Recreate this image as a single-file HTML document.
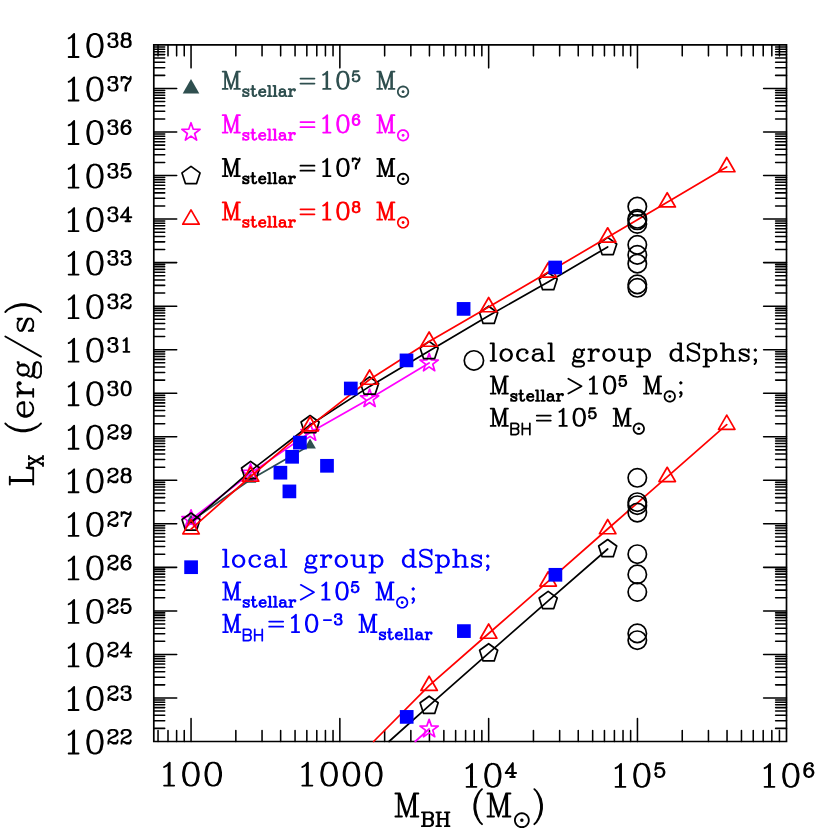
<!DOCTYPE html>
<html><head><meta charset="utf-8"><title>Lx vs MBH</title>
<style>html,body{margin:0;padding:0;background:#fff;font-family:"Liberation Sans",sans-serif}svg{display:block}</style>
</head><body>
<svg width="830" height="830" viewBox="0 0 830 830" fill="none" stroke-width="1.7" stroke-linecap="round" stroke-linejoin="round">
<rect width="830" height="830" fill="#fff" stroke="none"/>
<path d="M153.8 44.95H786.5V741.5H153.8Z" stroke="#000" stroke-linejoin="miter"/>
<path d="M158.04 44.95v10.9M158.04 741.5v-10.9M168 44.95v10.9M168 741.5v-10.9M176.63 44.95v10.9M176.63 741.5v-10.9M184.24 44.95v10.9M184.24 741.5v-10.9M191.05 44.95v22.9M191.05 741.5v-22.9M235.84 44.95v10.9M235.84 741.5v-10.9M262.05 44.95v10.9M262.05 741.5v-10.9M280.64 44.95v10.9M280.64 741.5v-10.9M295.06 44.95v10.9M295.06 741.5v-10.9M306.84 44.95v10.9M306.84 741.5v-10.9M316.8 44.95v10.9M316.8 741.5v-10.9M325.43 44.95v10.9M325.43 741.5v-10.9M333.04 44.95v10.9M333.04 741.5v-10.9M339.85 44.95v22.9M339.85 741.5v-22.9M384.64 44.95v10.9M384.64 741.5v-10.9M410.85 44.95v10.9M410.85 741.5v-10.9M429.44 44.95v10.9M429.44 741.5v-10.9M443.86 44.95v10.9M443.86 741.5v-10.9M455.64 44.95v10.9M455.64 741.5v-10.9M465.6 44.95v10.9M465.6 741.5v-10.9M474.23 44.95v10.9M474.23 741.5v-10.9M481.84 44.95v10.9M481.84 741.5v-10.9M488.65 44.95v22.9M488.65 741.5v-22.9M533.44 44.95v10.9M533.44 741.5v-10.9M559.65 44.95v10.9M559.65 741.5v-10.9M578.24 44.95v10.9M578.24 741.5v-10.9M592.66 44.95v10.9M592.66 741.5v-10.9M604.44 44.95v10.9M604.44 741.5v-10.9M614.4 44.95v10.9M614.4 741.5v-10.9M623.03 44.95v10.9M623.03 741.5v-10.9M630.64 44.95v10.9M630.64 741.5v-10.9M637.45 44.95v22.9M637.45 741.5v-22.9M682.24 44.95v10.9M682.24 741.5v-10.9M708.45 44.95v10.9M708.45 741.5v-10.9M727.04 44.95v10.9M727.04 741.5v-10.9M741.46 44.95v10.9M741.46 741.5v-10.9M753.24 44.95v10.9M753.24 741.5v-10.9M763.2 44.95v10.9M763.2 741.5v-10.9M771.83 44.95v10.9M771.83 741.5v-10.9M779.44 44.95v10.9M779.44 741.5v-10.9M153.8 728.39h10.9M786.5 728.39h-10.9M153.8 720.73h10.9M786.5 720.73h-10.9M153.8 715.29h10.9M786.5 715.29h-10.9M153.8 711.07h10.9M786.5 711.07h-10.9M153.8 707.62h10.9M786.5 707.62h-10.9M153.8 704.71h10.9M786.5 704.71h-10.9M153.8 702.18h10.9M786.5 702.18h-10.9M153.8 699.96h10.9M786.5 699.96h-10.9M153.8 697.97h22.9M786.5 697.97h-22.9M153.8 684.86h10.9M786.5 684.86h-10.9M153.8 677.19h10.9M786.5 677.19h-10.9M153.8 671.76h10.9M786.5 671.76h-10.9M153.8 667.54h10.9M786.5 667.54h-10.9M153.8 664.09h10.9M786.5 664.09h-10.9M153.8 661.17h10.9M786.5 661.17h-10.9M153.8 658.65h10.9M786.5 658.65h-10.9M153.8 656.42h10.9M786.5 656.42h-10.9M153.8 654.43h22.9M786.5 654.43h-22.9M153.8 641.33h10.9M786.5 641.33h-10.9M153.8 633.66h10.9M786.5 633.66h-10.9M153.8 628.22h10.9M786.5 628.22h-10.9M153.8 624h10.9M786.5 624h-10.9M153.8 620.55h10.9M786.5 620.55h-10.9M153.8 617.64h10.9M786.5 617.64h-10.9M153.8 615.12h10.9M786.5 615.12h-10.9M153.8 612.89h10.9M786.5 612.89h-10.9M153.8 610.9h22.9M786.5 610.9h-22.9M153.8 597.79h10.9M786.5 597.79h-10.9M153.8 590.13h10.9M786.5 590.13h-10.9M153.8 584.69h10.9M786.5 584.69h-10.9M153.8 580.47h10.9M786.5 580.47h-10.9M153.8 577.02h10.9M786.5 577.02h-10.9M153.8 574.11h10.9M786.5 574.11h-10.9M153.8 571.58h10.9M786.5 571.58h-10.9M153.8 569.35h10.9M786.5 569.35h-10.9M153.8 567.36h22.9M786.5 567.36h-22.9M153.8 554.26h10.9M786.5 554.26h-10.9M153.8 546.59h10.9M786.5 546.59h-10.9M153.8 541.15h10.9M786.5 541.15h-10.9M153.8 536.93h10.9M786.5 536.93h-10.9M153.8 533.49h10.9M786.5 533.49h-10.9M153.8 530.57h10.9M786.5 530.57h-10.9M153.8 528.05h10.9M786.5 528.05h-10.9M153.8 525.82h10.9M786.5 525.82h-10.9M153.8 523.83h22.9M786.5 523.83h-22.9M153.8 510.72h10.9M786.5 510.72h-10.9M153.8 503.06h10.9M786.5 503.06h-10.9M153.8 497.62h10.9M786.5 497.62h-10.9M153.8 493.4h10.9M786.5 493.4h-10.9M153.8 489.95h10.9M786.5 489.95h-10.9M153.8 487.04h10.9M786.5 487.04h-10.9M153.8 484.51h10.9M786.5 484.51h-10.9M153.8 482.29h10.9M786.5 482.29h-10.9M153.8 480.29h22.9M786.5 480.29h-22.9M153.8 467.19h10.9M786.5 467.19h-10.9M153.8 459.52h10.9M786.5 459.52h-10.9M153.8 454.08h10.9M786.5 454.08h-10.9M153.8 449.86h10.9M786.5 449.86h-10.9M153.8 446.42h10.9M786.5 446.42h-10.9M153.8 443.5h10.9M786.5 443.5h-10.9M153.8 440.98h10.9M786.5 440.98h-10.9M153.8 438.75h10.9M786.5 438.75h-10.9M153.8 436.76h22.9M786.5 436.76h-22.9M153.8 423.65h10.9M786.5 423.65h-10.9M153.8 415.99h10.9M786.5 415.99h-10.9M153.8 410.55h10.9M786.5 410.55h-10.9M153.8 406.33h10.9M786.5 406.33h-10.9M153.8 402.88h10.9M786.5 402.88h-10.9M153.8 399.97h10.9M786.5 399.97h-10.9M153.8 397.44h10.9M786.5 397.44h-10.9M153.8 395.22h10.9M786.5 395.22h-10.9M153.8 393.22h22.9M786.5 393.22h-22.9M153.8 380.12h10.9M786.5 380.12h-10.9M153.8 372.45h10.9M786.5 372.45h-10.9M153.8 367.01h10.9M786.5 367.01h-10.9M153.8 362.8h10.9M786.5 362.8h-10.9M153.8 359.35h10.9M786.5 359.35h-10.9M153.8 356.43h10.9M786.5 356.43h-10.9M153.8 353.91h10.9M786.5 353.91h-10.9M153.8 351.68h10.9M786.5 351.68h-10.9M153.8 349.69h22.9M786.5 349.69h-22.9M153.8 336.59h10.9M786.5 336.59h-10.9M153.8 328.92h10.9M786.5 328.92h-10.9M153.8 323.48h10.9M786.5 323.48h-10.9M153.8 319.26h10.9M786.5 319.26h-10.9M153.8 315.81h10.9M786.5 315.81h-10.9M153.8 312.9h10.9M786.5 312.9h-10.9M153.8 310.38h10.9M786.5 310.38h-10.9M153.8 308.15h10.9M786.5 308.15h-10.9M153.8 306.16h22.9M786.5 306.16h-22.9M153.8 293.05h10.9M786.5 293.05h-10.9M153.8 285.39h10.9M786.5 285.39h-10.9M153.8 279.95h10.9M786.5 279.95h-10.9M153.8 275.73h10.9M786.5 275.73h-10.9M153.8 272.28h10.9M786.5 272.28h-10.9M153.8 269.37h10.9M786.5 269.37h-10.9M153.8 266.84h10.9M786.5 266.84h-10.9M153.8 264.61h10.9M786.5 264.61h-10.9M153.8 262.62h22.9M786.5 262.62h-22.9M153.8 249.52h10.9M786.5 249.52h-10.9M153.8 241.85h10.9M786.5 241.85h-10.9M153.8 236.41h10.9M786.5 236.41h-10.9M153.8 232.19h10.9M786.5 232.19h-10.9M153.8 228.75h10.9M786.5 228.75h-10.9M153.8 225.83h10.9M786.5 225.83h-10.9M153.8 223.31h10.9M786.5 223.31h-10.9M153.8 221.08h10.9M786.5 221.08h-10.9M153.8 219.09h22.9M786.5 219.09h-22.9M153.8 205.98h10.9M786.5 205.98h-10.9M153.8 198.32h10.9M786.5 198.32h-10.9M153.8 192.88h10.9M786.5 192.88h-10.9M153.8 188.66h10.9M786.5 188.66h-10.9M153.8 185.21h10.9M786.5 185.21h-10.9M153.8 182.3h10.9M786.5 182.3h-10.9M153.8 179.77h10.9M786.5 179.77h-10.9M153.8 177.55h10.9M786.5 177.55h-10.9M153.8 175.55h22.9M786.5 175.55h-22.9M153.8 162.45h10.9M786.5 162.45h-10.9M153.8 154.78h10.9M786.5 154.78h-10.9M153.8 149.34h10.9M786.5 149.34h-10.9M153.8 145.12h10.9M786.5 145.12h-10.9M153.8 141.68h10.9M786.5 141.68h-10.9M153.8 138.76h10.9M786.5 138.76h-10.9M153.8 136.24h10.9M786.5 136.24h-10.9M153.8 134.01h10.9M786.5 134.01h-10.9M153.8 132.02h22.9M786.5 132.02h-22.9M153.8 118.91h10.9M786.5 118.91h-10.9M153.8 111.25h10.9M786.5 111.25h-10.9M153.8 105.81h10.9M786.5 105.81h-10.9M153.8 101.59h10.9M786.5 101.59h-10.9M153.8 98.14h10.9M786.5 98.14h-10.9M153.8 95.23h10.9M786.5 95.23h-10.9M153.8 92.7h10.9M786.5 92.7h-10.9M153.8 90.48h10.9M786.5 90.48h-10.9M153.8 88.48h22.9M786.5 88.48h-22.9M153.8 75.38h10.9M786.5 75.38h-10.9M153.8 67.71h10.9M786.5 67.71h-10.9M153.8 62.27h10.9M786.5 62.27h-10.9M153.8 58.06h10.9M786.5 58.06h-10.9M153.8 54.61h10.9M786.5 54.61h-10.9M153.8 51.69h10.9M786.5 51.69h-10.9M153.8 49.17h10.9M786.5 49.17h-10.9M153.8 46.94h10.9M786.5 46.94h-10.9" stroke="#000" stroke-width="1.55"/>
<path d="M68.67,734.88L70.86 733.79 74.14 730.5 74.14 753.5M73.05,731.6L73.05 753.5M68.67,753.5L78.53 753.5M93.86,730.5L90.57 731.6 88.38 734.88 87.28 740.36 87.28 743.64 88.38 749.12 90.57 752.4 93.86 753.5 96.05 753.5 99.33 752.4 101.52 749.12 102.61 743.64 102.61 740.36 101.52 734.88 99.33 731.6 96.05 730.5 93.86 730.5M93.86,730.5L91.67 731.6 90.57 732.7 89.47 734.88 88.38 740.36 88.38 743.64 89.47 749.12 90.57 751.31 91.67 752.4 93.86 753.5M96.05,753.5L98.23 752.4 99.33 751.31 100.42 749.12 101.52 743.64 101.52 740.36 100.42 734.88 99.33 732.7 98.23 731.6 96.05 730.5M109.03,732.48L109.69 733.13 109.03 733.79 108.37 733.13 108.37 732.48 109.03 731.16 109.69 730.5 111.66 729.85 114.28 729.85 116.26 730.5 116.91 731.16 117.57 732.48 117.57 733.79 116.91 735.1 114.94 736.42 111.66 737.73 110.34 738.39 109.03 739.7 108.37 741.67 108.37 743.64M114.28,729.85L115.6 730.5 116.26 731.16 116.91 732.48 116.91 733.79 116.26 735.1 114.28 736.42 111.66 737.73M108.37,742.33L109.03 741.67 110.34 741.67 113.63 742.99 115.6 742.99 116.91 742.33 117.57 741.67M110.34,741.67L113.63 743.64 116.26 743.64 116.91 742.99 117.57 741.67 117.57 740.36M122.17,732.48L122.83 733.13 122.17 733.79 121.51 733.13 121.51 732.48 122.17 731.16 122.83 730.5 124.8 729.85 127.42 729.85 129.4 730.5 130.05 731.16 130.71 732.48 130.71 733.79 130.05 735.1 128.08 736.42 124.8 737.73 123.48 738.39 122.17 739.7 121.51 741.67 121.51 743.64M127.42,729.85L128.74 730.5 129.4 731.16 130.05 732.48 130.05 733.79 129.4 735.1 127.42 736.42 124.8 737.73M121.51,742.33L122.17 741.67 123.48 741.67 126.77 742.99 128.74 742.99 130.05 742.33 130.71 741.67M123.48,741.67L126.77 743.64 129.4 743.64 130.05 742.99 130.71 741.67 130.71 740.36" stroke="#000" stroke-width="1.85"/>
<path d="M68.67,691.35L70.86 690.26 74.14 686.97 74.14 709.97M73.05,688.07L73.05 709.97M68.67,709.97L78.53 709.97M93.86,686.97L90.57 688.07 88.38 691.35 87.28 696.83 87.28 700.11 88.38 705.59 90.57 708.87 93.86 709.97 96.05 709.97 99.33 708.87 101.52 705.59 102.61 700.11 102.61 696.83 101.52 691.35 99.33 688.07 96.05 686.97 93.86 686.97M93.86,686.97L91.67 688.07 90.57 689.16 89.47 691.35 88.38 696.83 88.38 700.11 89.47 705.59 90.57 707.78 91.67 708.87 93.86 709.97M96.05,709.97L98.23 708.87 99.33 707.78 100.42 705.59 101.52 700.11 101.52 696.83 100.42 691.35 99.33 689.16 98.23 688.07 96.05 686.97M109.03,688.94L109.69 689.6 109.03 690.26 108.37 689.6 108.37 688.94 109.03 687.63 109.69 686.97 111.66 686.31 114.28 686.31 116.26 686.97 116.91 687.63 117.57 688.94 117.57 690.26 116.91 691.57 114.94 692.88 111.66 694.2 110.34 694.85 109.03 696.17 108.37 698.14 108.37 700.11M114.28,686.31L115.6 686.97 116.26 687.63 116.91 688.94 116.91 690.26 116.26 691.57 114.28 692.88 111.66 694.2M108.37,698.8L109.03 698.14 110.34 698.14 113.63 699.45 115.6 699.45 116.91 698.8 117.57 698.14M110.34,698.14L113.63 700.11 116.26 700.11 116.91 699.45 117.57 698.14 117.57 696.83M122.17,688.94L122.83 689.6 122.17 690.26 121.51 689.6 121.51 688.94 122.17 687.63 122.83 686.97 124.8 686.31 127.42 686.31 129.4 686.97 130.05 688.28 130.05 690.26 129.4 691.57 127.42 692.23 125.45 692.23M127.42,686.31L128.74 686.97 129.4 688.28 129.4 690.26 128.74 691.57 127.42 692.23M127.42,692.23L128.74 692.88 130.05 694.2 130.71 695.51 130.71 697.48 130.05 698.8 129.4 699.45 127.42 700.11 124.8 700.11 122.83 699.45 122.17 698.8 121.51 697.48 121.51 696.83 122.17 696.17 122.83 696.83 122.17 697.48M129.4,693.54L130.05 695.51 130.05 697.48 129.4 698.8 128.74 699.45 127.42 700.11" stroke="#000" stroke-width="1.85"/>
<path d="M68.67,647.82L70.86 646.72 74.14 643.44 74.14 666.43M73.05,644.53L73.05 666.43M68.67,666.43L78.53 666.43M93.86,643.44L90.57 644.53 88.38 647.82 87.28 653.29 87.28 656.58 88.38 662.05 90.57 665.34 93.86 666.43 96.05 666.43 99.33 665.34 101.52 662.05 102.61 656.58 102.61 653.29 101.52 647.82 99.33 644.53 96.05 643.44 93.86 643.44M93.86,643.44L91.67 644.53 90.57 645.63 89.47 647.82 88.38 653.29 88.38 656.58 89.47 662.05 90.57 664.24 91.67 665.34 93.86 666.43M96.05,666.43L98.23 665.34 99.33 664.24 100.42 662.05 101.52 656.58 101.52 653.29 100.42 647.82 99.33 645.63 98.23 644.53 96.05 643.44M109.03,645.41L109.69 646.06 109.03 646.72 108.37 646.06 108.37 645.41 109.03 644.09 109.69 643.44 111.66 642.78 114.28 642.78 116.26 643.44 116.91 644.09 117.57 645.41 117.57 646.72 116.91 648.04 114.94 649.35 111.66 650.66 110.34 651.32 109.03 652.63 108.37 654.61 108.37 656.58M114.28,642.78L115.6 643.44 116.26 644.09 116.91 645.41 116.91 646.72 116.26 648.04 114.28 649.35 111.66 650.66M108.37,655.26L109.03 654.61 110.34 654.61 113.63 655.92 115.6 655.92 116.91 655.26 117.57 654.61M110.34,654.61L113.63 656.58 116.26 656.58 116.91 655.92 117.57 654.61 117.57 653.29M127.42,644.09L127.42 656.58M128.08,642.78L128.08 656.58M128.08,642.78L120.85 652.63 131.37 652.63M125.45,656.58L130.05 656.58" stroke="#000" stroke-width="1.85"/>
<path d="M68.67,604.28L70.86 603.19 74.14 599.9 74.14 622.9M73.05,601L73.05 622.9M68.67,622.9L78.53 622.9M93.86,599.9L90.57 601 88.38 604.28 87.28 609.76 87.28 613.04 88.38 618.52 90.57 621.8 93.86 622.9 96.05 622.9 99.33 621.8 101.52 618.52 102.61 613.04 102.61 609.76 101.52 604.28 99.33 601 96.05 599.9 93.86 599.9M93.86,599.9L91.67 601 90.57 602.09 89.47 604.28 88.38 609.76 88.38 613.04 89.47 618.52 90.57 620.71 91.67 621.8 93.86 622.9M96.05,622.9L98.23 621.8 99.33 620.71 100.42 618.52 101.52 613.04 101.52 609.76 100.42 604.28 99.33 602.09 98.23 601 96.05 599.9M109.03,601.87L109.69 602.53 109.03 603.19 108.37 602.53 108.37 601.87 109.03 600.56 109.69 599.9 111.66 599.24 114.28 599.24 116.26 599.9 116.91 600.56 117.57 601.87 117.57 603.19 116.91 604.5 114.94 605.81 111.66 607.13 110.34 607.79 109.03 609.1 108.37 611.07 108.37 613.04M114.28,599.24L115.6 599.9 116.26 600.56 116.91 601.87 116.91 603.19 116.26 604.5 114.28 605.81 111.66 607.13M108.37,611.73L109.03 611.07 110.34 611.07 113.63 612.38 115.6 612.38 116.91 611.73 117.57 611.07M110.34,611.07L113.63 613.04 116.26 613.04 116.91 612.38 117.57 611.07 117.57 609.76M122.83,599.24L121.51 605.81M121.51,605.81L122.83 604.5 124.8 603.84 126.77 603.84 128.74 604.5 130.05 605.81 130.71 607.79 130.71 609.1 130.05 611.07 128.74 612.38 126.77 613.04 124.8 613.04 122.83 612.38 122.17 611.73 121.51 610.41 121.51 609.76 122.17 609.1 122.83 609.76 122.17 610.41M126.77,603.84L128.08 604.5 129.4 605.81 130.05 607.79 130.05 609.1 129.4 611.07 128.08 612.38 126.77 613.04M122.83,599.24L129.4 599.24M122.83,599.9L126.11 599.9 129.4 599.24" stroke="#000" stroke-width="1.85"/>
<path d="M68.67,560.75L70.86 559.65 74.14 556.37 74.14 579.36M73.05,557.46L73.05 579.36M68.67,579.36L78.53 579.36M93.86,556.37L90.57 557.46 88.38 560.75 87.28 566.22 87.28 569.51 88.38 574.98 90.57 578.27 93.86 579.36 96.05 579.36 99.33 578.27 101.52 574.98 102.61 569.51 102.61 566.22 101.52 560.75 99.33 557.46 96.05 556.37 93.86 556.37M93.86,556.37L91.67 557.46 90.57 558.56 89.47 560.75 88.38 566.22 88.38 569.51 89.47 574.98 90.57 577.17 91.67 578.27 93.86 579.36M96.05,579.36L98.23 578.27 99.33 577.17 100.42 574.98 101.52 569.51 101.52 566.22 100.42 560.75 99.33 558.56 98.23 557.46 96.05 556.37M109.03,558.34L109.69 559 109.03 559.65 108.37 559 108.37 558.34 109.03 557.02 109.69 556.37 111.66 555.71 114.28 555.71 116.26 556.37 116.91 557.02 117.57 558.34 117.57 559.65 116.91 560.97 114.94 562.28 111.66 563.59 110.34 564.25 109.03 565.57 108.37 567.54 108.37 569.51M114.28,555.71L115.6 556.37 116.26 557.02 116.91 558.34 116.91 559.65 116.26 560.97 114.28 562.28 111.66 563.59M108.37,568.19L109.03 567.54 110.34 567.54 113.63 568.85 115.6 568.85 116.91 568.19 117.57 567.54M110.34,567.54L113.63 569.51 116.26 569.51 116.91 568.85 117.57 567.54 117.57 566.22M129.4,557.68L128.74 558.34 129.4 559 130.05 558.34 130.05 557.68 129.4 556.37 128.08 555.71 126.11 555.71 124.14 556.37 122.83 557.68 122.17 559 121.51 561.62 121.51 565.57 122.17 567.54 123.48 568.85 125.45 569.51 126.77 569.51 128.74 568.85 130.05 567.54 130.71 565.57 130.71 564.91 130.05 562.94 128.74 561.62 126.77 560.97 126.11 560.97 124.14 561.62 122.83 562.94 122.17 564.91M126.11,555.71L124.8 556.37 123.48 557.68 122.83 559 122.17 561.62 122.17 565.57 122.83 567.54 124.14 568.85 125.45 569.51M126.77,569.51L128.08 568.85 129.4 567.54 130.05 565.57 130.05 564.91 129.4 562.94 128.08 561.62 126.77 560.97" stroke="#000" stroke-width="1.85"/>
<path d="M68.67,517.21L70.86 516.12 74.14 512.83 74.14 535.83M73.05,513.93L73.05 535.83M68.67,535.83L78.53 535.83M93.86,512.83L90.57 513.93 88.38 517.21 87.28 522.69 87.28 525.97 88.38 531.45 90.57 534.73 93.86 535.83 96.05 535.83 99.33 534.73 101.52 531.45 102.61 525.97 102.61 522.69 101.52 517.21 99.33 513.93 96.05 512.83 93.86 512.83M93.86,512.83L91.67 513.93 90.57 515.02 89.47 517.21 88.38 522.69 88.38 525.97 89.47 531.45 90.57 533.64 91.67 534.73 93.86 535.83M96.05,535.83L98.23 534.73 99.33 533.64 100.42 531.45 101.52 525.97 101.52 522.69 100.42 517.21 99.33 515.02 98.23 513.93 96.05 512.83M109.03,514.8L109.69 515.46 109.03 516.12 108.37 515.46 108.37 514.8 109.03 513.49 109.69 512.83 111.66 512.18 114.28 512.18 116.26 512.83 116.91 513.49 117.57 514.8 117.57 516.12 116.91 517.43 114.94 518.75 111.66 520.06 110.34 520.72 109.03 522.03 108.37 524 108.37 525.97M114.28,512.18L115.6 512.83 116.26 513.49 116.91 514.8 116.91 516.12 116.26 517.43 114.28 518.75 111.66 520.06M108.37,524.66L109.03 524 110.34 524 113.63 525.32 115.6 525.32 116.91 524.66 117.57 524M110.34,524L113.63 525.97 116.26 525.97 116.91 525.32 117.57 524 117.57 522.69M121.51,512.18L121.51 516.12M121.51,514.8L122.17 513.49 123.48 512.18 124.8 512.18 128.08 514.15 129.4 514.15 130.05 513.49 130.71 512.18M122.17,513.49L123.48 512.83 124.8 512.83 128.08 514.15M130.71,512.18L130.71 514.15 130.05 516.12 127.42 519.4 126.77 520.72 126.11 522.69 126.11 525.97M130.05,516.12L126.77 519.4 126.11 520.72 125.45 522.69 125.45 525.97" stroke="#000" stroke-width="1.85"/>
<path d="M68.67,473.68L70.86 472.58 74.14 469.3 74.14 492.29M73.05,470.39L73.05 492.29M68.67,492.29L78.53 492.29M93.86,469.3L90.57 470.39 88.38 473.68 87.28 479.15 87.28 482.44 88.38 487.91 90.57 491.2 93.86 492.29 96.05 492.29 99.33 491.2 101.52 487.91 102.61 482.44 102.61 479.15 101.52 473.68 99.33 470.39 96.05 469.3 93.86 469.3M93.86,469.3L91.67 470.39 90.57 471.49 89.47 473.68 88.38 479.15 88.38 482.44 89.47 487.91 90.57 490.1 91.67 491.2 93.86 492.29M96.05,492.29L98.23 491.2 99.33 490.1 100.42 487.91 101.52 482.44 101.52 479.15 100.42 473.68 99.33 471.49 98.23 470.39 96.05 469.3M109.03,471.27L109.69 471.93 109.03 472.58 108.37 471.93 108.37 471.27 109.03 469.96 109.69 469.3 111.66 468.64 114.28 468.64 116.26 469.3 116.91 469.96 117.57 471.27 117.57 472.58 116.91 473.9 114.94 475.21 111.66 476.53 110.34 477.18 109.03 478.5 108.37 480.47 108.37 482.44M114.28,468.64L115.6 469.3 116.26 469.96 116.91 471.27 116.91 472.58 116.26 473.9 114.28 475.21 111.66 476.53M108.37,481.12L109.03 480.47 110.34 480.47 113.63 481.78 115.6 481.78 116.91 481.12 117.57 480.47M110.34,480.47L113.63 482.44 116.26 482.44 116.91 481.78 117.57 480.47 117.57 479.15M124.8,468.64L122.83 469.3 122.17 470.61 122.17 472.58 122.83 473.9 124.8 474.55 127.42 474.55 129.4 473.9 130.05 472.58 130.05 470.61 129.4 469.3 127.42 468.64 124.8 468.64M124.8,468.64L123.48 469.3 122.83 470.61 122.83 472.58 123.48 473.9 124.8 474.55M127.42,474.55L128.74 473.9 129.4 472.58 129.4 470.61 128.74 469.3 127.42 468.64M124.8,474.55L122.83 475.21 122.17 475.87 121.51 477.18 121.51 479.81 122.17 481.12 122.83 481.78 124.8 482.44 127.42 482.44 129.4 481.78 130.05 481.12 130.71 479.81 130.71 477.18 130.05 475.87 129.4 475.21 127.42 474.55M124.8,474.55L123.48 475.21 122.83 475.87 122.17 477.18 122.17 479.81 122.83 481.12 123.48 481.78 124.8 482.44M127.42,482.44L128.74 481.78 129.4 481.12 130.05 479.81 130.05 477.18 129.4 475.87 128.74 475.21 127.42 474.55" stroke="#000" stroke-width="1.85"/>
<path d="M68.67,430.14L70.86 429.05 74.14 425.76 74.14 448.76M73.05,426.86L73.05 448.76M68.67,448.76L78.53 448.76M93.86,425.76L90.57 426.86 88.38 430.14 87.28 435.62 87.28 438.9 88.38 444.38 90.57 447.66 93.86 448.76 96.05 448.76 99.33 447.66 101.52 444.38 102.61 438.9 102.61 435.62 101.52 430.14 99.33 426.86 96.05 425.76 93.86 425.76M93.86,425.76L91.67 426.86 90.57 427.95 89.47 430.14 88.38 435.62 88.38 438.9 89.47 444.38 90.57 446.57 91.67 447.66 93.86 448.76M96.05,448.76L98.23 447.66 99.33 446.57 100.42 444.38 101.52 438.9 101.52 435.62 100.42 430.14 99.33 427.95 98.23 426.86 96.05 425.76M109.03,427.74L109.69 428.39 109.03 429.05 108.37 428.39 108.37 427.74 109.03 426.42 109.69 425.76 111.66 425.11 114.28 425.11 116.26 425.76 116.91 426.42 117.57 427.74 117.57 429.05 116.91 430.36 114.94 431.68 111.66 432.99 110.34 433.65 109.03 434.96 108.37 436.93 108.37 438.9M114.28,425.11L115.6 425.76 116.26 426.42 116.91 427.74 116.91 429.05 116.26 430.36 114.28 431.68 111.66 432.99M108.37,437.59L109.03 436.93 110.34 436.93 113.63 438.25 115.6 438.25 116.91 437.59 117.57 436.93M110.34,436.93L113.63 438.9 116.26 438.9 116.91 438.25 117.57 436.93 117.57 435.62M130.05,429.71L129.4 431.68 128.08 432.99 126.11 433.65 125.45 433.65 123.48 432.99 122.17 431.68 121.51 429.71 121.51 429.05 122.17 427.08 123.48 425.76 125.45 425.11 126.77 425.11 128.74 425.76 130.05 427.08 130.71 429.05 130.71 432.99 130.05 435.62 129.4 436.93 128.08 438.25 126.11 438.9 124.14 438.9 122.83 438.25 122.17 436.93 122.17 436.28 122.83 435.62 123.48 436.28 122.83 436.93M125.45,433.65L124.14 432.99 122.83 431.68 122.17 429.71 122.17 429.05 122.83 427.08 124.14 425.76 125.45 425.11M126.77,425.11L128.08 425.76 129.4 427.08 130.05 429.05 130.05 432.99 129.4 435.62 128.74 436.93 127.42 438.25 126.11 438.9" stroke="#000" stroke-width="1.85"/>
<path d="M68.67,386.61L70.86 385.51 74.14 382.23 74.14 405.22M73.05,383.32L73.05 405.22M68.67,405.22L78.53 405.22M93.86,382.23L90.57 383.32 88.38 386.61 87.28 392.08 87.28 395.37 88.38 400.84 90.57 404.13 93.86 405.22 96.05 405.22 99.33 404.13 101.52 400.84 102.61 395.37 102.61 392.08 101.52 386.61 99.33 383.32 96.05 382.23 93.86 382.23M93.86,382.23L91.67 383.32 90.57 384.42 89.47 386.61 88.38 392.08 88.38 395.37 89.47 400.84 90.57 403.03 91.67 404.13 93.86 405.22M96.05,405.22L98.23 404.13 99.33 403.03 100.42 400.84 101.52 395.37 101.52 392.08 100.42 386.61 99.33 384.42 98.23 383.32 96.05 382.23M109.03,384.2L109.69 384.86 109.03 385.51 108.37 384.86 108.37 384.2 109.03 382.89 109.69 382.23 111.66 381.57 114.28 381.57 116.26 382.23 116.91 383.54 116.91 385.51 116.26 386.83 114.28 387.49 112.31 387.49M114.28,381.57L115.6 382.23 116.26 383.54 116.26 385.51 115.6 386.83 114.28 387.49M114.28,387.49L115.6 388.14 116.91 389.46 117.57 390.77 117.57 392.74 116.91 394.06 116.26 394.71 114.28 395.37 111.66 395.37 109.69 394.71 109.03 394.06 108.37 392.74 108.37 392.08 109.03 391.43 109.69 392.08 109.03 392.74M116.26,388.8L116.91 390.77 116.91 392.74 116.26 394.06 115.6 394.71 114.28 395.37M125.45,381.57L123.48 382.23 122.17 384.2 121.51 387.49 121.51 389.46 122.17 392.74 123.48 394.71 125.45 395.37 126.77 395.37 128.74 394.71 130.05 392.74 130.71 389.46 130.71 387.49 130.05 384.2 128.74 382.23 126.77 381.57 125.45 381.57M125.45,381.57L124.14 382.23 123.48 382.89 122.83 384.2 122.17 387.49 122.17 389.46 122.83 392.74 123.48 394.06 124.14 394.71 125.45 395.37M126.77,395.37L128.08 394.71 128.74 394.06 129.4 392.74 130.05 389.46 130.05 387.49 129.4 384.2 128.74 382.89 128.08 382.23 126.77 381.57" stroke="#000" stroke-width="1.85"/>
<path d="M68.67,343.08L70.86 341.98 74.14 338.7 74.14 361.69M73.05,339.79L73.05 361.69M68.67,361.69L78.53 361.69M93.86,338.7L90.57 339.79 88.38 343.08 87.28 348.55 87.28 351.84 88.38 357.31 90.57 360.6 93.86 361.69 96.05 361.69 99.33 360.6 101.52 357.31 102.61 351.84 102.61 348.55 101.52 343.08 99.33 339.79 96.05 338.7 93.86 338.7M93.86,338.7L91.67 339.79 90.57 340.89 89.47 343.08 88.38 348.55 88.38 351.84 89.47 357.31 90.57 359.5 91.67 360.6 93.86 361.69M96.05,361.69L98.23 360.6 99.33 359.5 100.42 357.31 101.52 351.84 101.52 348.55 100.42 343.08 99.33 340.89 98.23 339.79 96.05 338.7M109.03,340.67L109.69 341.32 109.03 341.98 108.37 341.32 108.37 340.67 109.03 339.35 109.69 338.7 111.66 338.04 114.28 338.04 116.26 338.7 116.91 340.01 116.91 341.98 116.26 343.29 114.28 343.95 112.31 343.95M114.28,338.04L115.6 338.7 116.26 340.01 116.26 341.98 115.6 343.29 114.28 343.95M114.28,343.95L115.6 344.61 116.91 345.92 117.57 347.24 117.57 349.21 116.91 350.52 116.26 351.18 114.28 351.84 111.66 351.84 109.69 351.18 109.03 350.52 108.37 349.21 108.37 348.55 109.03 347.89 109.69 348.55 109.03 349.21M116.26,345.27L116.91 347.24 116.91 349.21 116.26 350.52 115.6 351.18 114.28 351.84M123.48,340.67L124.8 340.01 126.77 338.04 126.77 351.84M126.11,338.7L126.11 351.84M123.48,351.84L129.4 351.84" stroke="#000" stroke-width="1.85"/>
<path d="M68.67,299.54L70.86 298.45 74.14 295.16 74.14 318.16M73.05,296.26L73.05 318.16M68.67,318.16L78.53 318.16M93.86,295.16L90.57 296.26 88.38 299.54 87.28 305.02 87.28 308.3 88.38 313.78 90.57 317.06 93.86 318.16 96.05 318.16 99.33 317.06 101.52 313.78 102.61 308.3 102.61 305.02 101.52 299.54 99.33 296.26 96.05 295.16 93.86 295.16M93.86,295.16L91.67 296.26 90.57 297.35 89.47 299.54 88.38 305.02 88.38 308.3 89.47 313.78 90.57 315.97 91.67 317.06 93.86 318.16M96.05,318.16L98.23 317.06 99.33 315.97 100.42 313.78 101.52 308.3 101.52 305.02 100.42 299.54 99.33 297.35 98.23 296.26 96.05 295.16M109.03,297.13L109.69 297.79 109.03 298.45 108.37 297.79 108.37 297.13 109.03 295.82 109.69 295.16 111.66 294.5 114.28 294.5 116.26 295.16 116.91 296.48 116.91 298.45 116.26 299.76 114.28 300.42 112.31 300.42M114.28,294.5L115.6 295.16 116.26 296.48 116.26 298.45 115.6 299.76 114.28 300.42M114.28,300.42L115.6 301.07 116.91 302.39 117.57 303.7 117.57 305.67 116.91 306.99 116.26 307.64 114.28 308.3 111.66 308.3 109.69 307.64 109.03 306.99 108.37 305.67 108.37 305.02 109.03 304.36 109.69 305.02 109.03 305.67M116.26,301.73L116.91 303.7 116.91 305.67 116.26 306.99 115.6 307.64 114.28 308.3M122.17,297.13L122.83 297.79 122.17 298.45 121.51 297.79 121.51 297.13 122.17 295.82 122.83 295.16 124.8 294.5 127.42 294.5 129.4 295.16 130.05 295.82 130.71 297.13 130.71 298.45 130.05 299.76 128.08 301.07 124.8 302.39 123.48 303.05 122.17 304.36 121.51 306.33 121.51 308.3M127.42,294.5L128.74 295.16 129.4 295.82 130.05 297.13 130.05 298.45 129.4 299.76 127.42 301.07 124.8 302.39M121.51,306.99L122.17 306.33 123.48 306.33 126.77 307.64 128.74 307.64 130.05 306.99 130.71 306.33M123.48,306.33L126.77 308.3 129.4 308.3 130.05 307.64 130.71 306.33 130.71 305.02" stroke="#000" stroke-width="1.85"/>
<path d="M68.67,256.01L70.86 254.91 74.14 251.63 74.14 274.62M73.05,252.72L73.05 274.62M68.67,274.62L78.53 274.62M93.86,251.63L90.57 252.72 88.38 256.01 87.28 261.48 87.28 264.77 88.38 270.24 90.57 273.53 93.86 274.62 96.05 274.62 99.33 273.53 101.52 270.24 102.61 264.77 102.61 261.48 101.52 256.01 99.33 252.72 96.05 251.63 93.86 251.63M93.86,251.63L91.67 252.72 90.57 253.82 89.47 256.01 88.38 261.48 88.38 264.77 89.47 270.24 90.57 272.43 91.67 273.53 93.86 274.62M96.05,274.62L98.23 273.53 99.33 272.43 100.42 270.24 101.52 264.77 101.52 261.48 100.42 256.01 99.33 253.82 98.23 252.72 96.05 251.63M109.03,253.6L109.69 254.25 109.03 254.91 108.37 254.25 108.37 253.6 109.03 252.28 109.69 251.63 111.66 250.97 114.28 250.97 116.26 251.63 116.91 252.94 116.91 254.91 116.26 256.23 114.28 256.88 112.31 256.88M114.28,250.97L115.6 251.63 116.26 252.94 116.26 254.91 115.6 256.23 114.28 256.88M114.28,256.88L115.6 257.54 116.91 258.85 117.57 260.17 117.57 262.14 116.91 263.45 116.26 264.11 114.28 264.77 111.66 264.77 109.69 264.11 109.03 263.45 108.37 262.14 108.37 261.48 109.03 260.82 109.69 261.48 109.03 262.14M116.26,258.2L116.91 260.17 116.91 262.14 116.26 263.45 115.6 264.11 114.28 264.77M122.17,253.6L122.83 254.25 122.17 254.91 121.51 254.25 121.51 253.6 122.17 252.28 122.83 251.63 124.8 250.97 127.42 250.97 129.4 251.63 130.05 252.94 130.05 254.91 129.4 256.23 127.42 256.88 125.45 256.88M127.42,250.97L128.74 251.63 129.4 252.94 129.4 254.91 128.74 256.23 127.42 256.88M127.42,256.88L128.74 257.54 130.05 258.85 130.71 260.17 130.71 262.14 130.05 263.45 129.4 264.11 127.42 264.77 124.8 264.77 122.83 264.11 122.17 263.45 121.51 262.14 121.51 261.48 122.17 260.82 122.83 261.48 122.17 262.14M129.4,258.2L130.05 260.17 130.05 262.14 129.4 263.45 128.74 264.11 127.42 264.77" stroke="#000" stroke-width="1.85"/>
<path d="M68.67,212.47L70.86 211.38 74.14 208.09 74.14 231.09M73.05,209.19L73.05 231.09M68.67,231.09L78.53 231.09M93.86,208.09L90.57 209.19 88.38 212.47 87.28 217.95 87.28 221.23 88.38 226.71 90.57 229.99 93.86 231.09 96.05 231.09 99.33 229.99 101.52 226.71 102.61 221.23 102.61 217.95 101.52 212.47 99.33 209.19 96.05 208.09 93.86 208.09M93.86,208.09L91.67 209.19 90.57 210.28 89.47 212.47 88.38 217.95 88.38 221.23 89.47 226.71 90.57 228.9 91.67 229.99 93.86 231.09M96.05,231.09L98.23 229.99 99.33 228.9 100.42 226.71 101.52 221.23 101.52 217.95 100.42 212.47 99.33 210.28 98.23 209.19 96.05 208.09M109.03,210.06L109.69 210.72 109.03 211.38 108.37 210.72 108.37 210.06 109.03 208.75 109.69 208.09 111.66 207.44 114.28 207.44 116.26 208.09 116.91 209.41 116.91 211.38 116.26 212.69 114.28 213.35 112.31 213.35M114.28,207.44L115.6 208.09 116.26 209.41 116.26 211.38 115.6 212.69 114.28 213.35M114.28,213.35L115.6 214.01 116.91 215.32 117.57 216.63 117.57 218.6 116.91 219.92 116.26 220.58 114.28 221.23 111.66 221.23 109.69 220.58 109.03 219.92 108.37 218.6 108.37 217.95 109.03 217.29 109.69 217.95 109.03 218.6M116.26,214.66L116.91 216.63 116.91 218.6 116.26 219.92 115.6 220.58 114.28 221.23M127.42,208.75L127.42 221.23M128.08,207.44L128.08 221.23M128.08,207.44L120.85 217.29 131.37 217.29M125.45,221.23L130.05 221.23" stroke="#000" stroke-width="1.85"/>
<path d="M68.67,168.94L70.86 167.84 74.14 164.56 74.14 187.55M73.05,165.65L73.05 187.55M68.67,187.55L78.53 187.55M93.86,164.56L90.57 165.65 88.38 168.94 87.28 174.41 87.28 177.7 88.38 183.17 90.57 186.46 93.86 187.55 96.05 187.55 99.33 186.46 101.52 183.17 102.61 177.7 102.61 174.41 101.52 168.94 99.33 165.65 96.05 164.56 93.86 164.56M93.86,164.56L91.67 165.65 90.57 166.75 89.47 168.94 88.38 174.41 88.38 177.7 89.47 183.17 90.57 185.36 91.67 186.46 93.86 187.55M96.05,187.55L98.23 186.46 99.33 185.36 100.42 183.17 101.52 177.7 101.52 174.41 100.42 168.94 99.33 166.75 98.23 165.65 96.05 164.56M109.03,166.53L109.69 167.19 109.03 167.84 108.37 167.19 108.37 166.53 109.03 165.22 109.69 164.56 111.66 163.9 114.28 163.9 116.26 164.56 116.91 165.87 116.91 167.84 116.26 169.16 114.28 169.81 112.31 169.81M114.28,163.9L115.6 164.56 116.26 165.87 116.26 167.84 115.6 169.16 114.28 169.81M114.28,169.81L115.6 170.47 116.91 171.79 117.57 173.1 117.57 175.07 116.91 176.38 116.26 177.04 114.28 177.7 111.66 177.7 109.69 177.04 109.03 176.38 108.37 175.07 108.37 174.41 109.03 173.76 109.69 174.41 109.03 175.07M116.26,171.13L116.91 173.1 116.91 175.07 116.26 176.38 115.6 177.04 114.28 177.7M122.83,163.9L121.51 170.47M121.51,170.47L122.83 169.16 124.8 168.5 126.77 168.5 128.74 169.16 130.05 170.47 130.71 172.44 130.71 173.76 130.05 175.73 128.74 177.04 126.77 177.7 124.8 177.7 122.83 177.04 122.17 176.38 121.51 175.07 121.51 174.41 122.17 173.76 122.83 174.41 122.17 175.07M126.77,168.5L128.08 169.16 129.4 170.47 130.05 172.44 130.05 173.76 129.4 175.73 128.08 177.04 126.77 177.7M122.83,163.9L129.4 163.9M122.83,164.56L126.11 164.56 129.4 163.9" stroke="#000" stroke-width="1.85"/>
<path d="M68.67,125.4L70.86 124.31 74.14 121.02 74.14 144.02M73.05,122.12L73.05 144.02M68.67,144.02L78.53 144.02M93.86,121.02L90.57 122.12 88.38 125.4 87.28 130.88 87.28 134.16 88.38 139.64 90.57 142.92 93.86 144.02 96.05 144.02 99.33 142.92 101.52 139.64 102.61 134.16 102.61 130.88 101.52 125.4 99.33 122.12 96.05 121.02 93.86 121.02M93.86,121.02L91.67 122.12 90.57 123.21 89.47 125.4 88.38 130.88 88.38 134.16 89.47 139.64 90.57 141.83 91.67 142.92 93.86 144.02M96.05,144.02L98.23 142.92 99.33 141.83 100.42 139.64 101.52 134.16 101.52 130.88 100.42 125.4 99.33 123.21 98.23 122.12 96.05 121.02M109.03,122.99L109.69 123.65 109.03 124.31 108.37 123.65 108.37 122.99 109.03 121.68 109.69 121.02 111.66 120.37 114.28 120.37 116.26 121.02 116.91 122.34 116.91 124.31 116.26 125.62 114.28 126.28 112.31 126.28M114.28,120.37L115.6 121.02 116.26 122.34 116.26 124.31 115.6 125.62 114.28 126.28M114.28,126.28L115.6 126.94 116.91 128.25 117.57 129.56 117.57 131.54 116.91 132.85 116.26 133.51 114.28 134.16 111.66 134.16 109.69 133.51 109.03 132.85 108.37 131.54 108.37 130.88 109.03 130.22 109.69 130.88 109.03 131.54M116.26,127.59L116.91 129.56 116.91 131.54 116.26 132.85 115.6 133.51 114.28 134.16M129.4,122.34L128.74 122.99 129.4 123.65 130.05 122.99 130.05 122.34 129.4 121.02 128.08 120.37 126.11 120.37 124.14 121.02 122.83 122.34 122.17 123.65 121.51 126.28 121.51 130.22 122.17 132.19 123.48 133.51 125.45 134.16 126.77 134.16 128.74 133.51 130.05 132.19 130.71 130.22 130.71 129.56 130.05 127.59 128.74 126.28 126.77 125.62 126.11 125.62 124.14 126.28 122.83 127.59 122.17 129.56M126.11,120.37L124.8 121.02 123.48 122.34 122.83 123.65 122.17 126.28 122.17 130.22 122.83 132.19 124.14 133.51 125.45 134.16M126.77,134.16L128.08 133.51 129.4 132.19 130.05 130.22 130.05 129.56 129.4 127.59 128.08 126.28 126.77 125.62" stroke="#000" stroke-width="1.85"/>
<path d="M68.67,81.87L70.86 80.77 74.14 77.49 74.14 100.48M73.05,78.58L73.05 100.48M68.67,100.48L78.53 100.48M93.86,77.49L90.57 78.58 88.38 81.87 87.28 87.34 87.28 90.63 88.38 96.1 90.57 99.39 93.86 100.48 96.05 100.48 99.33 99.39 101.52 96.1 102.61 90.63 102.61 87.34 101.52 81.87 99.33 78.58 96.05 77.49 93.86 77.49M93.86,77.49L91.67 78.58 90.57 79.68 89.47 81.87 88.38 87.34 88.38 90.63 89.47 96.1 90.57 98.29 91.67 99.39 93.86 100.48M96.05,100.48L98.23 99.39 99.33 98.29 100.42 96.1 101.52 90.63 101.52 87.34 100.42 81.87 99.33 79.68 98.23 78.58 96.05 77.49M109.03,79.46L109.69 80.12 109.03 80.77 108.37 80.12 108.37 79.46 109.03 78.15 109.69 77.49 111.66 76.83 114.28 76.83 116.26 77.49 116.91 78.8 116.91 80.77 116.26 82.09 114.28 82.75 112.31 82.75M114.28,76.83L115.6 77.49 116.26 78.8 116.26 80.77 115.6 82.09 114.28 82.75M114.28,82.75L115.6 83.4 116.91 84.72 117.57 86.03 117.57 88 116.91 89.32 116.26 89.97 114.28 90.63 111.66 90.63 109.69 89.97 109.03 89.32 108.37 88 108.37 87.34 109.03 86.69 109.69 87.34 109.03 88M116.26,84.06L116.91 86.03 116.91 88 116.26 89.32 115.6 89.97 114.28 90.63M121.51,76.83L121.51 80.77M121.51,79.46L122.17 78.15 123.48 76.83 124.8 76.83 128.08 78.8 129.4 78.8 130.05 78.15 130.71 76.83M122.17,78.15L123.48 77.49 124.8 77.49 128.08 78.8M130.71,76.83L130.71 78.8 130.05 80.77 127.42 84.06 126.77 85.37 126.11 87.34 126.11 90.63M130.05,80.77L126.77 84.06 126.11 85.37 125.45 87.34 125.45 90.63" stroke="#000" stroke-width="1.85"/>
<path d="M68.67,38.34L70.86 37.24 74.14 33.95 74.14 56.95M73.05,35.05L73.05 56.95M68.67,56.95L78.53 56.95M93.86,33.95L90.57 35.05 88.38 38.34 87.28 43.81 87.28 47.09 88.38 52.57 90.57 55.86 93.86 56.95 96.05 56.95 99.33 55.86 101.52 52.57 102.61 47.09 102.61 43.81 101.52 38.34 99.33 35.05 96.05 33.95 93.86 33.95M93.86,33.95L91.67 35.05 90.57 36.15 89.47 38.34 88.38 43.81 88.38 47.09 89.47 52.57 90.57 54.76 91.67 55.86 93.86 56.95M96.05,56.95L98.23 55.86 99.33 54.76 100.42 52.57 101.52 47.09 101.52 43.81 100.42 38.34 99.33 36.15 98.23 35.05 96.05 33.95M109.03,35.93L109.69 36.58 109.03 37.24 108.37 36.58 108.37 35.93 109.03 34.61 109.69 33.95 111.66 33.3 114.28 33.3 116.26 33.95 116.91 35.27 116.91 37.24 116.26 38.55 114.28 39.21 112.31 39.21M114.28,33.3L115.6 33.95 116.26 35.27 116.26 37.24 115.6 38.55 114.28 39.21M114.28,39.21L115.6 39.87 116.91 41.18 117.57 42.5 117.57 44.47 116.91 45.78 116.26 46.44 114.28 47.09 111.66 47.09 109.69 46.44 109.03 45.78 108.37 44.47 108.37 43.81 109.03 43.15 109.69 43.81 109.03 44.47M116.26,40.52L116.91 42.5 116.91 44.47 116.26 45.78 115.6 46.44 114.28 47.09M124.8,33.3L122.83 33.95 122.17 35.27 122.17 37.24 122.83 38.55 124.8 39.21 127.42 39.21 129.4 38.55 130.05 37.24 130.05 35.27 129.4 33.95 127.42 33.3 124.8 33.3M124.8,33.3L123.48 33.95 122.83 35.27 122.83 37.24 123.48 38.55 124.8 39.21M127.42,39.21L128.74 38.55 129.4 37.24 129.4 35.27 128.74 33.95 127.42 33.3M124.8,39.21L122.83 39.87 122.17 40.52 121.51 41.84 121.51 44.47 122.17 45.78 122.83 46.44 124.8 47.09 127.42 47.09 129.4 46.44 130.05 45.78 130.71 44.47 130.71 41.84 130.05 40.52 129.4 39.87 127.42 39.21M124.8,39.21L123.48 39.87 122.83 40.52 122.17 41.84 122.17 44.47 122.83 45.78 123.48 46.44 124.8 47.09M127.42,47.09L128.74 46.44 129.4 45.78 130.05 44.47 130.05 41.84 129.4 40.52 128.74 39.87 127.42 39.21" stroke="#000" stroke-width="1.85"/>
<path d="M164.1,766.99L166.34 765.89 169.69 762.61 169.69 785.6M168.57,763.7L168.57 785.6M164.1,785.6L174.15 785.6M189.79,762.61L186.44 763.7 184.21 766.99 183.09 772.46 183.09 775.75 184.21 781.22 186.44 784.5 189.79 785.6 192.02 785.6 195.37 784.5 197.61 781.22 198.73 775.75 198.73 772.46 197.61 766.99 195.37 763.7 192.02 762.61 189.79 762.61M189.79,762.61L187.56 763.7 186.44 764.8 185.32 766.99 184.21 772.46 184.21 775.75 185.32 781.22 186.44 783.41 187.56 784.5 189.79 785.6M192.02,785.6L194.26 784.5 195.37 783.41 196.49 781.22 197.61 775.75 197.61 772.46 196.49 766.99 195.37 764.8 194.26 763.7 192.02 762.61M212.13,762.61L208.78 763.7 206.54 766.99 205.43 772.46 205.43 775.75 206.54 781.22 208.78 784.5 212.13 785.6 214.36 785.6 217.71 784.5 219.95 781.22 221.06 775.75 221.06 772.46 219.95 766.99 217.71 763.7 214.36 762.61 212.13 762.61M212.13,762.61L209.89 763.7 208.78 764.8 207.66 766.99 206.54 772.46 206.54 775.75 207.66 781.22 208.78 783.41 209.89 784.5 212.13 785.6M214.36,785.6L216.6 784.5 217.71 783.41 218.83 781.22 219.95 775.75 219.95 772.46 218.83 766.99 217.71 764.8 216.6 763.7 214.36 762.61" stroke="#000" stroke-width="1.85"/>
<path d="M302.3,766.99L304.54 765.89 307.89 762.61 307.89 785.6M306.77,763.7L306.77 785.6M302.3,785.6L312.35 785.6M327.99,762.61L324.64 763.7 322.41 766.99 321.29 772.46 321.29 775.75 322.41 781.22 324.64 784.5 327.99 785.6 330.22 785.6 333.57 784.5 335.81 781.22 336.93 775.75 336.93 772.46 335.81 766.99 333.57 763.7 330.22 762.61 327.99 762.61M327.99,762.61L325.76 763.7 324.64 764.8 323.52 766.99 322.41 772.46 322.41 775.75 323.52 781.22 324.64 783.41 325.76 784.5 327.99 785.6M330.22,785.6L332.46 784.5 333.57 783.41 334.69 781.22 335.81 775.75 335.81 772.46 334.69 766.99 333.57 764.8 332.46 763.7 330.22 762.61M350.33,762.61L346.98 763.7 344.74 766.99 343.63 772.46 343.63 775.75 344.74 781.22 346.98 784.5 350.33 785.6 352.56 785.6 355.91 784.5 358.15 781.22 359.26 775.75 359.26 772.46 358.15 766.99 355.91 763.7 352.56 762.61 350.33 762.61M350.33,762.61L348.09 763.7 346.98 764.8 345.86 766.99 344.74 772.46 344.74 775.75 345.86 781.22 346.98 783.41 348.09 784.5 350.33 785.6M352.56,785.6L354.8 784.5 355.91 783.41 357.03 781.22 358.15 775.75 358.15 772.46 357.03 766.99 355.91 764.8 354.8 763.7 352.56 762.61M372.67,762.61L369.32 763.7 367.08 766.99 365.96 772.46 365.96 775.75 367.08 781.22 369.32 784.5 372.67 785.6 374.9 785.6 378.25 784.5 380.48 781.22 381.6 775.75 381.6 772.46 380.48 766.99 378.25 763.7 374.9 762.61 372.67 762.61M372.67,762.61L370.43 763.7 369.32 764.8 368.2 766.99 367.08 772.46 367.08 775.75 368.2 781.22 369.32 783.41 370.43 784.5 372.67 785.6M374.9,785.6L377.13 784.5 378.25 783.41 379.37 781.22 380.48 775.75 380.48 772.46 379.37 766.99 378.25 764.8 377.13 763.7 374.9 762.61" stroke="#000" stroke-width="1.85"/>
<path d="M466.57,768.19L468.76 767.09 472.05 763.81 472.05 786.8M470.95,764.9L470.95 786.8M466.57,786.8L476.43 786.8M491.75,763.81L488.47 764.9 486.28 768.19 485.19 773.66 485.19 776.95 486.28 782.42 488.47 785.71 491.75 786.8 493.94 786.8 497.23 785.71 499.42 782.42 500.51 776.95 500.51 773.66 499.42 768.19 497.23 764.9 493.94 763.81 491.75 763.81M491.75,763.81L489.56 764.9 488.47 766 487.38 768.19 486.28 773.66 486.28 776.95 487.38 782.42 488.47 784.61 489.56 785.71 491.75 786.8M493.94,786.8L496.13 785.71 497.23 784.61 498.32 782.42 499.42 776.95 499.42 773.66 498.32 768.19 497.23 766 496.13 764.9 493.94 763.81M512.18,764.46L512.18 776.95M512.84,763.15L512.84 776.95M512.84,763.15L505.61 773 516.13 773M510.21,776.95L514.81 776.95" stroke="#000" stroke-width="1.85"/>
<path d="M615.57,768.19L617.76 767.09 621.04 763.81 621.04 786.8M619.95,764.9L619.95 786.8M615.57,786.8L625.42 786.8M640.75,763.81L637.47 764.9 635.28 768.19 634.18 773.66 634.18 776.95 635.28 782.42 637.47 785.71 640.75 786.8 642.94 786.8 646.23 785.71 648.42 782.42 649.51 776.95 649.51 773.66 648.42 768.19 646.23 764.9 642.94 763.81 640.75 763.81M640.75,763.81L638.56 764.9 637.47 766 636.38 768.19 635.28 773.66 635.28 776.95 636.38 782.42 637.47 784.61 638.56 785.71 640.75 786.8M642.94,786.8L645.13 785.71 646.23 784.61 647.32 782.42 648.42 776.95 648.42 773.66 647.32 768.19 646.23 766 645.13 764.9 642.94 763.81M656.58,763.15L655.27 769.72M655.27,769.72L656.58 768.4 658.56 767.75 660.53 767.75 662.5 768.4 663.81 769.72 664.47 771.69 664.47 773 663.81 774.97 662.5 776.29 660.53 776.95 658.56 776.95 656.58 776.29 655.93 775.63 655.27 774.32 655.27 773.66 655.93 773 656.58 773.66 655.93 774.32M660.53,767.75L661.84 768.4 663.15 769.72 663.81 771.69 663.81 773 663.15 774.97 661.84 776.29 660.53 776.95M656.58,763.15L663.15 763.15M656.58,763.81L659.87 763.81 663.15 763.15" stroke="#000" stroke-width="1.85"/>
<path d="M764.57,768.19L766.76 767.09 770.04 763.81 770.04 786.8M768.95,764.9L768.95 786.8M764.57,786.8L774.42 786.8M789.75,763.81L786.47 764.9 784.28 768.19 783.18 773.66 783.18 776.95 784.28 782.42 786.47 785.71 789.75 786.8 791.94 786.8 795.23 785.71 797.42 782.42 798.51 776.95 798.51 773.66 797.42 768.19 795.23 764.9 791.94 763.81 789.75 763.81M789.75,763.81L787.56 764.9 786.47 766 785.38 768.19 784.28 773.66 784.28 776.95 785.38 782.42 786.47 784.61 787.56 785.71 789.75 786.8M791.94,786.8L794.13 785.71 795.23 784.61 796.32 782.42 797.42 776.95 797.42 773.66 796.32 768.19 795.23 766 794.13 764.9 791.94 763.81M812.15,765.12L811.5 765.78 812.15 766.43 812.81 765.78 812.81 765.12 812.15 763.81 810.84 763.15 808.87 763.15 806.9 763.81 805.58 765.12 804.93 766.43 804.27 769.06 804.27 773 804.93 774.97 806.24 776.29 808.21 776.95 809.53 776.95 811.5 776.29 812.81 774.97 813.47 773 813.47 772.35 812.81 770.38 811.5 769.06 809.53 768.4 808.87 768.4 806.9 769.06 805.58 770.38 804.93 772.35M808.87,763.15L807.56 763.81 806.24 765.12 805.58 766.43 804.93 769.06 804.93 773 805.58 774.97 806.9 776.29 808.21 776.95M809.53,776.95L810.84 776.29 812.15 774.97 812.81 773 812.81 772.35 812.15 770.38 810.84 769.06 809.53 768.4" stroke="#000" stroke-width="1.85"/>
<path d="M398.68,793.5L398.68 816.5M399.77,793.5L406.34 813.22M398.68,793.5L406.34 816.5M414,793.5L406.34 816.5M414,793.5L414 816.5M415.1,793.5L415.1 816.5M395.39,793.5L399.77 793.5M414,793.5L418.38 793.5M395.39,816.5L401.96 816.5M410.72,816.5L418.38 816.5M423.86,812.34L423.86 826.14M424.52,812.34L424.52 826.14M421.89,812.34L429.77 812.34 431.74 813 432.4 813.65 433.06 814.97 433.06 816.28 432.4 817.59 431.74 818.25 429.77 818.91M429.77,812.34L431.09 813 431.74 813.65 432.4 814.97 432.4 816.28 431.74 817.59 431.09 818.25 429.77 818.91M424.52,818.91L429.77 818.91 431.74 819.57 432.4 820.22 433.06 821.54 433.06 823.51 432.4 824.82 431.74 825.48 429.77 826.14 421.89 826.14M429.77,818.91L431.09 819.57 431.74 820.22 432.4 821.54 432.4 823.51 431.74 824.82 431.09 825.48 429.77 826.14M438.31,812.34L438.31 826.14M438.97,812.34L438.97 826.14M446.86,812.34L446.86 826.14M447.51,812.34L447.51 826.14M436.34,812.34L440.94 812.34M444.88,812.34L449.48 812.34M438.97,818.91L446.86 818.91M436.34,826.14L440.94 826.14M444.88,826.14L449.48 826.14M482,789.12L479.81 791.32 477.62 794.6 475.43 798.98 474.34 804.46 474.34 808.84 475.43 814.31 477.62 818.69 479.81 821.98 482 824.16M479.81,791.32L477.62 795.7 476.53 798.98 475.43 804.46 475.43 808.84 476.53 814.31 477.62 817.6 479.81 821.98M490.76,793.5L490.76 816.5M491.86,793.5L498.43 813.22M490.76,793.5L498.43 816.5M506.09,793.5L498.43 816.5M506.09,793.5L506.09 816.5M507.19,793.5L507.19 816.5M487.48,793.5L491.86 793.5M506.09,793.5L510.47 793.5M487.48,816.5L494.05 816.5M502.81,816.5L510.47 816.5M528.83,820.22L528.65 821.77 528.14 823.24 527.31 824.57 526.2 825.67 524.88 826.5 523.41 827.01 521.86 827.19 520.31 827.01 518.84 826.5 517.52 825.67 516.42 824.57 515.59 823.24 515.07 821.77 514.9 820.22 515.07 818.67 515.59 817.2 516.42 815.88 517.52 814.78 518.84 813.95 520.31 813.43 521.86 813.26 523.41 813.43 524.88 813.95 526.2 814.78 527.31 815.88 528.14 817.2 528.65 818.67 528.83 820.22M522.65,820.22L522.42 820.78 521.86 821.01 521.31 820.78 521.07 820.22 521.31 819.67 521.86 819.43 522.42 819.67 522.65 820.22M534.35,789.12L536.54 791.32 538.73 794.6 540.92 798.98 542.01 804.46 542.01 808.84 540.92 814.31 538.73 818.69 536.54 821.98 534.35 824.16M536.54,791.32L538.73 795.7 539.82 798.98 540.92 804.46 540.92 808.84 539.82 814.31 538.73 817.6 536.54 821.98" stroke="#000" stroke-width="1.85"/>
<path d="M38.78,463.28L38.78 486.7M39.89,463.28L39.89 486.7M35.43,463.28L43.23 463.28M35.43,486.7L52.16 486.7 52.16 480.01 51.04 486.7M54.98,482.46L62.37 496.51M55.54,482.46L62.94 496.51M62.94,482.46L54.98 496.51M53.84,482.46L57.25 482.46M60.66,482.46L64.07 482.46M53.84,496.51L57.25 496.51M60.66,496.51L64.07 496.51M96.42,458.82L94.19 461.06 91.96 464.4 89.73 468.86 88.62 474.44 88.62 478.89 89.73 484.47 91.96 488.93 94.19 492.27 96.42 494.5M94.19,461.06L91.96 465.51 90.85 468.86 89.73 474.44 89.73 478.89 90.85 484.47 91.96 487.81 94.19 492.27M104.23,477.78L117.61 477.78 117.61 475.55 116.49 473.32 115.38 472.2 113.15 471.09 109.8 471.09 106.46 472.2 104.23 474.44 103.11 477.78 103.11 480.01 104.23 483.35 106.46 485.58 109.8 486.7 112.03 486.7 115.38 485.58 117.61 483.35M116.49,477.78L116.49 474.44 115.38 472.2M109.8,471.09L107.57 472.2 105.34 474.44 104.23 477.78 104.23 480.01 105.34 483.35 107.57 485.58 109.8 486.7M126.53,471.09L126.53 486.7M127.64,471.09L127.64 486.7M127.64,477.78L128.76 474.44 130.99 472.2 133.22 471.09 136.56 471.09 137.68 472.2 137.68 473.32 136.56 474.44 135.45 473.32 136.56 472.2M123.18,471.09L127.64 471.09M123.18,486.7L130.99 486.7M148.83,471.09L146.6 472.2 145.48 473.32 144.37 475.55 144.37 477.78 145.48 480.01 146.6 481.12 148.83 482.24 151.06 482.24 153.29 481.12 154.4 480.01 155.52 477.78 155.52 475.55 154.4 473.32 153.29 472.2 151.06 471.09 148.83 471.09M146.6,472.2L145.48 474.44 145.48 478.89 146.6 481.12M153.29,481.12L154.4 478.89 154.4 474.44 153.29 472.2M154.4,473.32L155.52 472.2 157.75 471.09 157.75 472.2 155.52 472.2M145.48,480.01L144.37 481.12 143.25 483.35 143.25 484.47 144.37 486.7 147.71 487.81 153.29 487.81 156.63 488.93 157.75 490.05M143.25,484.47L144.37 485.58 147.71 486.7 153.29 486.7 156.63 487.81 157.75 490.05 157.75 491.16 156.63 493.39 153.29 494.5 146.6 494.5 143.25 493.39 142.14 491.16 142.14 490.05 143.25 487.81 146.6 486.7M183.39,458.82L163.32 494.5M200.12,473.32L201.23 471.09 201.23 475.55 200.12 473.32 199 472.2 196.77 471.09 192.31 471.09 190.08 472.2 188.97 473.32 188.97 475.55 190.08 476.66 192.31 477.78 197.89 480.01 200.12 481.12 201.23 482.24M188.97,474.44L190.08 475.55 192.31 476.66 197.89 478.89 200.12 480.01 201.23 481.12 201.23 484.47 200.12 485.58 197.89 486.7 193.43 486.7 191.2 485.58 190.08 484.47 188.97 482.24 188.97 486.7 190.08 484.47M207.92,458.82L210.15 461.06 212.38 464.4 214.61 468.86 215.73 474.44 215.73 478.89 214.61 484.47 212.38 488.93 210.15 492.27 207.92 494.5M210.15,461.06L212.38 465.51 213.5 468.86 214.61 474.44 214.61 478.89 213.5 484.47 212.38 487.81 210.15 492.27" stroke="#000" stroke-width="1.85" transform="rotate(-90 33.2 486.7)"/>
<path d="M191.05 521.2 250.57 479.5 310.09 445.2" stroke="#2f4f4f"/>
<path d="M191.05 514.5 196.85 524.55 185.25 524.55Z" stroke="none" fill="#2f4f4f"/>
<path d="M250.57 472.8 256.37 482.85 244.77 482.85Z" stroke="none" fill="#2f4f4f"/>
<path d="M310.09 438.5 315.89 448.55 304.29 448.55Z" stroke="none" fill="#2f4f4f"/>
<path d="M191.05 519.5 250.57 473.3 310.09 432.5 369.61 398.7 429.13 363" stroke="#ff00ff"/>
<path d="M191.05 509.9 193.31 516.39 200.18 516.53 194.7 520.69 196.69 527.27 191.05 523.34 185.41 527.27 187.4 520.69 181.92 516.53 188.79 516.39Z" stroke="#ff00ff" fill="none"/>
<path d="M250.57 463.7 252.83 470.19 259.7 470.33 254.22 474.49 256.21 481.07 250.57 477.14 244.93 481.07 246.92 474.49 241.44 470.33 248.31 470.19Z" stroke="#ff00ff" fill="none"/>
<path d="M310.09 422.9 312.35 429.39 319.22 429.53 313.74 433.69 315.73 440.27 310.09 436.34 304.45 440.27 306.44 433.69 300.96 429.53 307.83 429.39Z" stroke="#ff00ff" fill="none"/>
<path d="M369.61 389.1 371.87 395.59 378.74 395.73 373.26 399.89 375.25 406.47 369.61 402.54 363.97 406.47 365.96 399.89 360.48 395.73 367.35 395.59Z" stroke="#ff00ff" fill="none"/>
<path d="M429.13 353.4 431.39 359.89 438.26 360.03 432.78 364.19 434.77 370.77 429.13 366.84 423.49 370.77 425.48 364.19 420 360.03 426.87 359.89Z" stroke="#ff00ff" fill="none"/>
<path d="M415.2 741.5 429.13 729" stroke="#ff00ff"/>
<path d="M429.13 719.4 431.39 725.89 438.26 726.03 432.78 730.19 434.77 736.77 429.13 732.84 423.49 736.77 425.48 730.19 420 726.03 426.87 725.89Z" stroke="#ff00ff" fill="none"/>
<path d="M191.05 522.5 250.57 470.9 310.09 425 369.61 386.4 429.13 350.9 488.65 315.7 548.17 282 607.69 246.9" stroke="#000"/>
<path d="M191.05 513 200.09 519.56 196.63 530.19 185.47 530.19 182.01 519.56Z" stroke="#000" fill="none"/>
<path d="M250.57 461.4 259.61 467.96 256.15 478.59 244.99 478.59 241.53 467.96Z" stroke="#000" fill="none"/>
<path d="M310.09 415.5 319.13 422.06 315.67 432.69 304.51 432.69 301.05 422.06Z" stroke="#000" fill="none"/>
<path d="M369.61 376.9 378.65 383.46 375.19 394.09 364.03 394.09 360.57 383.46Z" stroke="#000" fill="none"/>
<path d="M429.13 341.4 438.17 347.96 434.71 358.59 423.55 358.59 420.09 347.96Z" stroke="#000" fill="none"/>
<path d="M488.65 306.2 497.69 312.76 494.23 323.39 483.07 323.39 479.61 312.76Z" stroke="#000" fill="none"/>
<path d="M548.17 272.5 557.21 279.06 553.75 289.69 542.59 289.69 539.13 279.06Z" stroke="#000" fill="none"/>
<path d="M607.69 237.4 616.73 243.96 613.27 254.59 602.11 254.59 598.65 243.96Z" stroke="#000" fill="none"/>
<path d="M389 741.5 429.13 705.7 488.65 653.2 548.17 600.9 607.69 549" stroke="#000"/>
<path d="M429.13 696.2 438.17 702.76 434.71 713.39 423.55 713.39 420.09 702.76Z" stroke="#000" fill="none"/>
<path d="M488.65 643.7 497.69 650.26 494.23 660.89 483.07 660.89 479.61 650.26Z" stroke="#000" fill="none"/>
<path d="M548.17 591.4 557.21 597.96 553.75 608.59 542.59 608.59 539.13 597.96Z" stroke="#000" fill="none"/>
<path d="M607.69 539.5 616.73 546.06 613.27 556.69 602.11 556.69 598.65 546.06Z" stroke="#000" fill="none"/>
<path d="M191.05 529.1 250.57 476.5 310.09 426.2 369.61 379.5 429.13 341.5 488.65 307 548.17 272.3 607.69 237.3 667.21 202.2 726.73 167" stroke="#ff0000"/>
<path d="M191.05 519.6 199.28 533.85 182.82 533.85Z" stroke="#ff0000" fill="none"/>
<path d="M250.57 467 258.8 481.25 242.34 481.25Z" stroke="#ff0000" fill="none"/>
<path d="M310.09 416.7 318.32 430.95 301.86 430.95Z" stroke="#ff0000" fill="none"/>
<path d="M369.61 370 377.84 384.25 361.38 384.25Z" stroke="#ff0000" fill="none"/>
<path d="M429.13 332 437.36 346.25 420.9 346.25Z" stroke="#ff0000" fill="none"/>
<path d="M488.65 297.5 496.88 311.75 480.42 311.75Z" stroke="#ff0000" fill="none"/>
<path d="M548.17 262.8 556.4 277.05 539.94 277.05Z" stroke="#ff0000" fill="none"/>
<path d="M607.69 227.8 615.92 242.05 599.46 242.05Z" stroke="#ff0000" fill="none"/>
<path d="M667.21 192.7 675.44 206.95 658.98 206.95Z" stroke="#ff0000" fill="none"/>
<path d="M726.73 157.5 734.96 171.75 718.5 171.75Z" stroke="#ff0000" fill="none"/>
<path d="M373.6 741.5 429.13 685.7 488.65 633.5 548.17 581.3 607.69 529 667.21 476.8 726.73 424.6" stroke="#ff0000"/>
<path d="M429.13 676.2 437.36 690.45 420.9 690.45Z" stroke="#ff0000" fill="none"/>
<path d="M488.65 624 496.88 638.25 480.42 638.25Z" stroke="#ff0000" fill="none"/>
<path d="M548.17 571.8 556.4 586.05 539.94 586.05Z" stroke="#ff0000" fill="none"/>
<path d="M607.69 519.5 615.92 533.75 599.46 533.75Z" stroke="#ff0000" fill="none"/>
<path d="M667.21 467.3 675.44 481.55 658.98 481.55Z" stroke="#ff0000" fill="none"/>
<path d="M726.73 415.1 734.96 429.35 718.5 429.35Z" stroke="#ff0000" fill="none"/>
<rect x="293.05" y="435.75" width="13.7" height="13.7" fill="#0000ff" stroke="none"/>
<rect x="285.25" y="449.95" width="13.7" height="13.7" fill="#0000ff" stroke="none"/>
<rect x="273.55" y="465.85" width="13.7" height="13.7" fill="#0000ff" stroke="none"/>
<rect x="282.55" y="484.55" width="13.7" height="13.7" fill="#0000ff" stroke="none"/>
<rect x="320.15" y="458.95" width="13.7" height="13.7" fill="#0000ff" stroke="none"/>
<rect x="343.95" y="381.65" width="13.7" height="13.7" fill="#0000ff" stroke="none"/>
<rect x="399.65" y="353.55" width="13.7" height="13.7" fill="#0000ff" stroke="none"/>
<rect x="456.75" y="302.05" width="13.7" height="13.7" fill="#0000ff" stroke="none"/>
<rect x="548.35" y="260.65" width="13.7" height="13.7" fill="#0000ff" stroke="none"/>
<rect x="399.85" y="710.05" width="13.7" height="13.7" fill="#0000ff" stroke="none"/>
<rect x="457.05" y="624.25" width="13.7" height="13.7" fill="#0000ff" stroke="none"/>
<rect x="548.55" y="567.95" width="13.7" height="13.7" fill="#0000ff" stroke="none"/>
<rect x="184.25" y="560.35" width="13.7" height="13.7" fill="#0000ff" stroke="none"/>
<circle cx="637.3" cy="206.6" r="9.2" stroke="#000"/>
<circle cx="637.3" cy="477.8" r="9.2" stroke="#000"/>
<circle cx="637.3" cy="218.8" r="9.2" stroke="#000"/>
<circle cx="637.3" cy="502.2" r="9.2" stroke="#000"/>
<circle cx="637.3" cy="220.3" r="9.2" stroke="#000"/>
<circle cx="637.3" cy="505.2" r="9.2" stroke="#000"/>
<circle cx="637.3" cy="224" r="9.2" stroke="#000"/>
<circle cx="637.3" cy="512.6" r="9.2" stroke="#000"/>
<circle cx="637.3" cy="244.8" r="9.2" stroke="#000"/>
<circle cx="637.3" cy="554.2" r="9.2" stroke="#000"/>
<circle cx="637.3" cy="254.9" r="9.2" stroke="#000"/>
<circle cx="637.3" cy="574.4" r="9.2" stroke="#000"/>
<circle cx="637.3" cy="263.7" r="9.2" stroke="#000"/>
<circle cx="637.3" cy="592" r="9.2" stroke="#000"/>
<circle cx="637.3" cy="284.4" r="9.2" stroke="#000"/>
<circle cx="637.3" cy="633.4" r="9.2" stroke="#000"/>
<circle cx="637.3" cy="287.8" r="9.2" stroke="#000"/>
<circle cx="637.3" cy="640.2" r="9.2" stroke="#000"/>
<circle cx="473.9" cy="360.4" r="9.65" stroke="#000"/>
<path d="M191 79 199.31 93.4 182.69 93.4Z" stroke="none" fill="#2f4f4f"/>
<path d="M191 122.72 193.26 129.21 200.13 129.35 194.65 133.51 196.64 140.09 191 136.16 185.36 140.09 187.35 133.51 181.87 129.35 188.74 129.21Z" stroke="#ff00ff" fill="none"/>
<path d="M191 166.35 200.04 172.92 196.58 183.54 185.42 183.54 181.96 172.92Z" stroke="#000" fill="none"/>
<path d="M191 209.89 199.23 224.14 182.77 224.14Z" stroke="#ff0000" fill="none"/>
<path d="M225.12,71.58L225.12 88.9M225.95,71.58L230.9 86.43M225.12,71.58L230.9 88.9M236.68,71.58L230.9 88.9M236.68,71.58L236.68 88.9M237.5,71.58L237.5 88.9M222.65,71.58L225.95 71.58M236.68,71.58L239.97 71.58M222.65,88.9L227.6 88.9M234.2,88.9L239.97 88.9M248.06,90.22L248.56 89.23 248.56 91.21 248.06 90.22 247.56 89.73 246.57 89.23 244.59 89.23 243.6 89.73 243.11 90.22 243.11 91.21 243.6 91.71 244.59 92.2 247.07 93.19 248.06 93.69 248.56 94.18M243.11,90.72L243.6 91.21 244.59 91.71 247.07 92.7 248.06 93.19 248.56 93.69 248.56 95.17 248.06 95.67 247.07 96.16 245.09 96.16 244.1 95.67 243.6 95.17 243.11 94.18 243.11 96.16 243.6 95.17M252.51,85.77L252.51 94.18 253.01 95.67 254 96.16 254.99 96.16 255.98 95.67 256.47 94.68M253.01,85.77L253.01 94.18 253.5 95.67 254 96.16M251.03,89.23L254.99 89.23M259.44,92.2L265.38 92.2 265.38 91.21 264.89 90.22 264.39 89.73 263.4 89.23 261.92 89.23 260.44 89.73 259.44 90.72 258.95 92.2 258.95 93.19 259.44 94.68 260.44 95.67 261.92 96.16 262.91 96.16 264.39 95.67 265.38 94.68M264.89,92.2L264.89 90.72 264.39 89.73M261.92,89.23L260.93 89.73 259.94 90.72 259.44 92.2 259.44 93.19 259.94 94.68 260.93 95.67 261.92 96.16M269.34,85.77L269.34 96.16M269.84,85.77L269.84 96.16M267.86,85.77L269.84 85.77M267.86,96.16L271.32 96.16M274.79,85.77L274.79 96.16M275.28,85.77L275.28 96.16M273.3,85.77L275.28 85.77M273.3,96.16L276.77 96.16M280.23,90.22L280.23 90.72 279.74 90.72 279.74 90.22 280.23 89.73 281.22 89.23 283.2 89.23 284.19 89.73 284.69 90.22 285.18 91.21 285.18 94.68 285.68 95.67 286.17 96.16M284.69,90.22L284.69 94.68 285.18 95.67 286.17 96.16 286.67 96.16M284.69,91.21L284.19 91.71 281.22 92.2 279.74 92.7 279.24 93.69 279.24 94.68 279.74 95.67 281.22 96.16 282.71 96.16 283.7 95.67 284.69 94.68M281.22,92.2L280.23 92.7 279.74 93.69 279.74 94.68 280.23 95.67 281.22 96.16M290.13,89.23L290.13 96.16M290.63,89.23L290.63 96.16M290.63,92.2L291.12 90.72 292.11 89.73 293.1 89.23 294.59 89.23 295.08 89.73 295.08 90.22 294.59 90.72 294.09 90.22 294.59 89.73M288.65,89.23L290.63 89.23M288.65,96.16L292.11 96.16M300.45,78.51L314.47 78.51M300.45,83.54L314.47 83.54M323.13,74.88L324.78 74.05 327.26 71.58 327.26 88.9M326.43,72.4L326.43 88.9M323.13,88.9L330.56 88.9M342.11,71.58L339.63 72.4 337.98 74.88 337.16 79 337.16 81.48 337.98 85.6 339.63 88.08 342.11 88.9 343.76 88.9 346.23 88.08 347.88 85.6 348.71 81.48 348.71 79 347.88 74.88 346.23 72.4 343.76 71.58 342.11 71.58M342.11,71.58L340.46 72.4 339.63 73.23 338.81 74.88 337.98 79 337.98 81.48 338.81 85.6 339.63 87.25 340.46 88.08 342.11 88.9M343.76,88.9L345.41 88.08 346.23 87.25 347.06 85.6 347.88 81.48 347.88 79 347.06 74.88 346.23 73.23 345.41 72.4 343.76 71.58M353.66,71.08L352.67 76.03M352.67,76.03L353.66 75.04 355.14 74.55 356.63 74.55 358.11 75.04 359.1 76.03 359.6 77.52 359.6 78.51 359.1 79.99 358.11 80.98 356.63 81.48 355.14 81.48 353.66 80.98 353.16 80.49 352.67 79.5 352.67 79 353.16 78.51 353.66 79 353.16 79.5M356.63,74.55L357.62 75.04 358.61 76.03 359.1 77.52 359.1 78.51 358.61 79.99 357.62 80.98 356.63 81.48M353.66,71.08L358.61 71.08M353.66,71.58L356.13 71.58 358.61 71.08M379.65,71.58L379.65 88.9M380.47,71.58L385.42 86.43M379.65,71.58L385.42 88.9M391.2,71.58L385.42 88.9M391.2,71.58L391.2 88.9M392.02,71.58L392.02 88.9M377.17,71.58L380.47 71.58M391.2,71.58L394.5 71.58M377.17,88.9L382.12 88.9M388.72,88.9L394.5 88.9M408.32,91.71L408.19 92.87 407.8 93.98 407.18 94.98 406.35 95.81 405.35 96.43 404.25 96.82 403.08 96.95 401.91 96.82 400.8 96.43 399.81 95.81 398.98 94.98 398.35 93.98 397.96 92.87 397.83 91.71 397.96 90.54 398.35 89.43 398.98 88.43 399.81 87.6 400.8 86.98 401.91 86.59 403.08 86.46 404.25 86.59 405.35 86.98 406.35 87.6 407.18 88.43 407.8 89.43 408.19 90.54 408.32 91.71M403.67,91.71L403.5 92.13 403.08 92.3 402.66 92.13 402.48 91.71 402.66 91.28 403.08 91.11 403.5 91.28 403.67 91.71" stroke="#2f4f4f" stroke-width="1.75"/>
<path d="M225.12,115.17L225.12 132.5M225.95,115.17L230.9 130.03M225.12,115.17L230.9 132.5M236.68,115.17L230.9 132.5M236.68,115.17L236.68 132.5M237.5,115.17L237.5 132.5M222.65,115.17L225.95 115.17M236.68,115.17L239.97 115.17M222.65,132.5L227.6 132.5M234.2,132.5L239.97 132.5M248.06,133.82L248.56 132.83 248.56 134.81 248.06 133.82 247.56 133.32 246.57 132.83 244.59 132.83 243.6 133.32 243.11 133.82 243.11 134.81 243.6 135.3 244.59 135.8 247.07 136.79 248.06 137.28 248.56 137.78M243.11,134.31L243.6 134.81 244.59 135.3 247.07 136.29 248.06 136.79 248.56 137.28 248.56 138.77 248.06 139.26 247.07 139.76 245.09 139.76 244.1 139.26 243.6 138.77 243.11 137.78 243.11 139.76 243.6 138.77M252.51,129.36L252.51 137.78 253.01 139.26 254 139.76 254.99 139.76 255.98 139.26 256.47 138.27M253.01,129.36L253.01 137.78 253.5 139.26 254 139.76M251.03,132.83L254.99 132.83M259.44,135.8L265.38 135.8 265.38 134.81 264.89 133.82 264.39 133.32 263.4 132.83 261.92 132.83 260.44 133.32 259.44 134.31 258.95 135.8 258.95 136.79 259.44 138.27 260.44 139.26 261.92 139.76 262.91 139.76 264.39 139.26 265.38 138.27M264.89,135.8L264.89 134.31 264.39 133.32M261.92,132.83L260.93 133.32 259.94 134.31 259.44 135.8 259.44 136.79 259.94 138.27 260.93 139.26 261.92 139.76M269.34,129.36L269.34 139.76M269.84,129.36L269.84 139.76M267.86,129.36L269.84 129.36M267.86,139.76L271.32 139.76M274.79,129.36L274.79 139.76M275.28,129.36L275.28 139.76M273.3,129.36L275.28 129.36M273.3,139.76L276.77 139.76M280.23,133.82L280.23 134.31 279.74 134.31 279.74 133.82 280.23 133.32 281.22 132.83 283.2 132.83 284.19 133.32 284.69 133.82 285.18 134.81 285.18 138.27 285.68 139.26 286.17 139.76M284.69,133.82L284.69 138.27 285.18 139.26 286.17 139.76 286.67 139.76M284.69,134.81L284.19 135.3 281.22 135.8 279.74 136.29 279.24 137.28 279.24 138.27 279.74 139.26 281.22 139.76 282.71 139.76 283.7 139.26 284.69 138.27M281.22,135.8L280.23 136.29 279.74 137.28 279.74 138.27 280.23 139.26 281.22 139.76M290.13,132.83L290.13 139.76M290.63,132.83L290.63 139.76M290.63,135.8L291.12 134.31 292.11 133.32 293.1 132.83 294.59 132.83 295.08 133.32 295.08 133.82 294.59 134.31 294.09 133.82 294.59 133.32M288.65,132.83L290.63 132.83M288.65,139.76L292.11 139.76M300.45,122.11L314.47 122.11M300.45,127.14L314.47 127.14M323.13,118.47L324.78 117.65 327.26 115.17 327.26 132.5M326.43,116L326.43 132.5M323.13,132.5L330.56 132.5M342.11,115.17L339.63 116 337.98 118.47 337.16 122.6 337.16 125.08 337.98 129.2 339.63 131.68 342.11 132.5 343.76 132.5 346.23 131.68 347.88 129.2 348.71 125.08 348.71 122.6 347.88 118.47 346.23 116 343.76 115.17 342.11 115.17M342.11,115.17L340.46 116 339.63 116.83 338.81 118.47 337.98 122.6 337.98 125.08 338.81 129.2 339.63 130.85 340.46 131.68 342.11 132.5M343.76,132.5L345.41 131.68 346.23 130.85 347.06 129.2 347.88 125.08 347.88 122.6 347.06 118.47 346.23 116.83 345.41 116 343.76 115.17M358.61,116.17L358.11 116.66 358.61 117.16 359.1 116.66 359.1 116.17 358.61 115.18 357.62 114.68 356.13 114.68 354.65 115.18 353.66 116.17 353.16 117.16 352.67 119.14 352.67 122.11 353.16 123.59 354.15 124.58 355.64 125.08 356.63 125.08 358.11 124.58 359.1 123.59 359.6 122.11 359.6 121.61 359.1 120.12 358.11 119.14 356.63 118.64 356.13 118.64 354.65 119.14 353.66 120.12 353.16 121.61M356.13,114.68L355.14 115.18 354.15 116.17 353.66 117.16 353.16 119.14 353.16 122.11 353.66 123.59 354.65 124.58 355.64 125.08M356.63,125.08L357.62 124.58 358.61 123.59 359.1 122.11 359.1 121.61 358.61 120.12 357.62 119.14 356.63 118.64M379.65,115.17L379.65 132.5M380.47,115.17L385.42 130.03M379.65,115.17L385.42 132.5M391.2,115.17L385.42 132.5M391.2,115.17L391.2 132.5M392.02,115.17L392.02 132.5M377.17,115.17L380.47 115.17M391.2,115.17L394.5 115.17M377.17,132.5L382.12 132.5M388.72,132.5L394.5 132.5M408.32,135.3L408.19 136.47 407.8 137.58 407.18 138.58 406.35 139.41 405.35 140.03 404.25 140.42 403.08 140.55 401.91 140.42 400.8 140.03 399.81 139.41 398.98 138.58 398.35 137.58 397.96 136.47 397.83 135.31 397.96 134.14 398.35 133.03 398.98 132.03 399.81 131.2 400.8 130.58 401.91 130.19 403.08 130.06 404.25 130.19 405.35 130.58 406.35 131.2 407.18 132.03 407.8 133.03 408.19 134.14 408.32 135.3M403.67,135.3L403.5 135.73 403.08 135.9 402.66 135.73 402.48 135.3 402.66 134.88 403.08 134.71 403.5 134.88 403.67 135.3" stroke="#ff00ff" stroke-width="1.75"/>
<path d="M225.12,158.78L225.12 176.1M225.95,158.78L230.9 173.63M225.12,158.78L230.9 176.1M236.68,158.78L230.9 176.1M236.68,158.78L236.68 176.1M237.5,158.78L237.5 176.1M222.65,158.78L225.95 158.78M236.68,158.78L239.97 158.78M222.65,176.1L227.6 176.1M234.2,176.1L239.97 176.1M248.06,177.42L248.56 176.43 248.56 178.41 248.06 177.42 247.56 176.93 246.57 176.43 244.59 176.43 243.6 176.93 243.11 177.42 243.11 178.41 243.6 178.91 244.59 179.4 247.07 180.39 248.06 180.89 248.56 181.38M243.11,177.92L243.6 178.41 244.59 178.91 247.07 179.9 248.06 180.39 248.56 180.89 248.56 182.37 248.06 182.87 247.07 183.36 245.09 183.36 244.1 182.87 243.6 182.37 243.11 181.38 243.11 183.36 243.6 182.37M252.51,172.97L252.51 181.38 253.01 182.87 254 183.36 254.99 183.36 255.98 182.87 256.47 181.88M253.01,172.97L253.01 181.38 253.5 182.87 254 183.36M251.03,176.43L254.99 176.43M259.44,179.4L265.38 179.4 265.38 178.41 264.89 177.42 264.39 176.93 263.4 176.43 261.92 176.43 260.44 176.93 259.44 177.92 258.95 179.4 258.95 180.39 259.44 181.88 260.44 182.87 261.92 183.36 262.91 183.36 264.39 182.87 265.38 181.88M264.89,179.4L264.89 177.92 264.39 176.93M261.92,176.43L260.93 176.93 259.94 177.92 259.44 179.4 259.44 180.39 259.94 181.88 260.93 182.87 261.92 183.36M269.34,172.97L269.34 183.36M269.84,172.97L269.84 183.36M267.86,172.97L269.84 172.97M267.86,183.36L271.32 183.36M274.79,172.97L274.79 183.36M275.28,172.97L275.28 183.36M273.3,172.97L275.28 172.97M273.3,183.36L276.77 183.36M280.23,177.42L280.23 177.92 279.74 177.92 279.74 177.42 280.23 176.93 281.22 176.43 283.2 176.43 284.19 176.93 284.69 177.42 285.18 178.41 285.18 181.88 285.68 182.87 286.17 183.36M284.69,177.42L284.69 181.88 285.18 182.87 286.17 183.36 286.67 183.36M284.69,178.41L284.19 178.91 281.22 179.4 279.74 179.9 279.24 180.89 279.24 181.88 279.74 182.87 281.22 183.36 282.71 183.36 283.7 182.87 284.69 181.88M281.22,179.4L280.23 179.9 279.74 180.89 279.74 181.88 280.23 182.87 281.22 183.36M290.13,176.43L290.13 183.36M290.63,176.43L290.63 183.36M290.63,179.4L291.12 177.92 292.11 176.93 293.1 176.43 294.59 176.43 295.08 176.93 295.08 177.42 294.59 177.92 294.09 177.42 294.59 176.93M288.65,176.43L290.63 176.43M288.65,183.36L292.11 183.36M300.45,165.71L314.47 165.71M300.45,170.74L314.47 170.74M323.13,162.08L324.78 161.25 327.26 158.78 327.26 176.1M326.43,159.6L326.43 176.1M323.13,176.1L330.56 176.1M342.11,158.78L339.63 159.6 337.98 162.08 337.16 166.2 337.16 168.68 337.98 172.8 339.63 175.28 342.11 176.1 343.76 176.1 346.23 175.28 347.88 172.8 348.71 168.68 348.71 166.2 347.88 162.08 346.23 159.6 343.76 158.78 342.11 158.78M342.11,158.78L340.46 159.6 339.63 160.43 338.81 162.08 337.98 166.2 337.98 168.68 338.81 172.8 339.63 174.45 340.46 175.28 342.11 176.1M343.76,176.1L345.41 175.28 346.23 174.45 347.06 172.8 347.88 168.68 347.88 166.2 347.06 162.08 346.23 160.43 345.41 159.6 343.76 158.78M352.67,158.28L352.67 161.25M352.67,160.26L353.16 159.27 354.15 158.28 355.14 158.28 357.62 159.77 358.61 159.77 359.1 159.27 359.6 158.28M353.16,159.27L354.15 158.78 355.14 158.78 357.62 159.77M359.6,158.28L359.6 159.77 359.1 161.25 357.12 163.73 356.63 164.72 356.13 166.2 356.13 168.68M359.1,161.25L356.63 163.73 356.13 164.72 355.64 166.2 355.64 168.68M379.65,158.78L379.65 176.1M380.47,158.78L385.42 173.63M379.65,158.78L385.42 176.1M391.2,158.78L385.42 176.1M391.2,158.78L391.2 176.1M392.02,158.78L392.02 176.1M377.17,158.78L380.47 158.78M391.2,158.78L394.5 158.78M377.17,176.1L382.12 176.1M388.72,176.1L394.5 176.1M408.32,178.91L408.19 180.07 407.8 181.18 407.18 182.18 406.35 183.01 405.35 183.63 404.25 184.02 403.08 184.15 401.91 184.02 400.8 183.63 399.81 183.01 398.98 182.18 398.35 181.18 397.96 180.07 397.83 178.91 397.96 177.74 398.35 176.63 398.98 175.63 399.81 174.8 400.8 174.18 401.91 173.79 403.08 173.66 404.25 173.79 405.35 174.18 406.35 174.8 407.18 175.63 407.8 176.63 408.19 177.74 408.32 178.91M403.67,178.91L403.5 179.33 403.08 179.5 402.66 179.33 402.48 178.91 402.66 178.48 403.08 178.31 403.5 178.48 403.67 178.91" stroke="#000" stroke-width="1.75"/>
<path d="M225.12,202.38L225.12 219.7M225.95,202.38L230.9 217.23M225.12,202.38L230.9 219.7M236.68,202.38L230.9 219.7M236.68,202.38L236.68 219.7M237.5,202.38L237.5 219.7M222.65,202.38L225.95 202.38M236.68,202.38L239.97 202.38M222.65,219.7L227.6 219.7M234.2,219.7L239.97 219.7M248.06,221.02L248.56 220.03 248.56 222.01 248.06 221.02 247.56 220.53 246.57 220.03 244.59 220.03 243.6 220.53 243.11 221.02 243.11 222.01 243.6 222.5 244.59 223 247.07 223.99 248.06 224.49 248.56 224.98M243.11,221.52L243.6 222.01 244.59 222.5 247.07 223.5 248.06 223.99 248.56 224.49 248.56 225.97 248.06 226.47 247.07 226.96 245.09 226.96 244.1 226.47 243.6 225.97 243.11 224.98 243.11 226.96 243.6 225.97M252.51,216.56L252.51 224.98 253.01 226.47 254 226.96 254.99 226.96 255.98 226.47 256.47 225.47M253.01,216.56L253.01 224.98 253.5 226.47 254 226.96M251.03,220.03L254.99 220.03M259.44,223L265.38 223 265.38 222.01 264.89 221.02 264.39 220.53 263.4 220.03 261.92 220.03 260.44 220.53 259.44 221.52 258.95 223 258.95 223.99 259.44 225.47 260.44 226.47 261.92 226.96 262.91 226.96 264.39 226.47 265.38 225.47M264.89,223L264.89 221.52 264.39 220.53M261.92,220.03L260.93 220.53 259.94 221.52 259.44 223 259.44 223.99 259.94 225.47 260.93 226.47 261.92 226.96M269.34,216.56L269.34 226.96M269.84,216.56L269.84 226.96M267.86,216.56L269.84 216.56M267.86,226.96L271.32 226.96M274.79,216.56L274.79 226.96M275.28,216.56L275.28 226.96M273.3,216.56L275.28 216.56M273.3,226.96L276.77 226.96M280.23,221.02L280.23 221.52 279.74 221.52 279.74 221.02 280.23 220.53 281.22 220.03 283.2 220.03 284.19 220.53 284.69 221.02 285.18 222.01 285.18 225.47 285.68 226.47 286.17 226.96M284.69,221.02L284.69 225.47 285.18 226.47 286.17 226.96 286.67 226.96M284.69,222.01L284.19 222.5 281.22 223 279.74 223.5 279.24 224.49 279.24 225.47 279.74 226.47 281.22 226.96 282.71 226.96 283.7 226.47 284.69 225.47M281.22,223L280.23 223.5 279.74 224.49 279.74 225.47 280.23 226.47 281.22 226.96M290.13,220.03L290.13 226.96M290.63,220.03L290.63 226.96M290.63,223L291.12 221.52 292.11 220.53 293.1 220.03 294.59 220.03 295.08 220.53 295.08 221.02 294.59 221.52 294.09 221.02 294.59 220.53M288.65,220.03L290.63 220.03M288.65,226.96L292.11 226.96M300.45,209.31L314.47 209.31M300.45,214.34L314.47 214.34M323.13,205.68L324.78 204.85 327.26 202.38 327.26 219.7M326.43,203.2L326.43 219.7M323.13,219.7L330.56 219.7M342.11,202.38L339.63 203.2 337.98 205.68 337.16 209.8 337.16 212.28 337.98 216.4 339.63 218.88 342.11 219.7 343.76 219.7 346.23 218.88 347.88 216.4 348.71 212.28 348.71 209.8 347.88 205.68 346.23 203.2 343.76 202.38 342.11 202.38M342.11,202.38L340.46 203.2 339.63 204.03 338.81 205.68 337.98 209.8 337.98 212.28 338.81 216.4 339.63 218.05 340.46 218.88 342.11 219.7M343.76,219.7L345.41 218.88 346.23 218.05 347.06 216.4 347.88 212.28 347.88 209.8 347.06 205.68 346.23 204.03 345.41 203.2 343.76 202.38M355.14,201.88L353.66 202.38 353.16 203.37 353.16 204.85 353.66 205.84 355.14 206.34 357.12 206.34 358.61 205.84 359.1 204.85 359.1 203.37 358.61 202.38 357.12 201.88 355.14 201.88M355.14,201.88L354.15 202.38 353.66 203.37 353.66 204.85 354.15 205.84 355.14 206.34M357.12,206.34L358.11 205.84 358.61 204.85 358.61 203.37 358.11 202.38 357.12 201.88M355.14,206.34L353.66 206.83 353.16 207.33 352.67 208.31 352.67 210.3 353.16 211.28 353.66 211.78 355.14 212.28 357.12 212.28 358.61 211.78 359.1 211.28 359.6 210.3 359.6 208.31 359.1 207.33 358.61 206.83 357.12 206.34M355.14,206.34L354.15 206.83 353.66 207.33 353.16 208.31 353.16 210.3 353.66 211.28 354.15 211.78 355.14 212.28M357.12,212.28L358.11 211.78 358.61 211.28 359.1 210.3 359.1 208.31 358.61 207.33 358.11 206.83 357.12 206.34M379.65,202.38L379.65 219.7M380.47,202.38L385.42 217.23M379.65,202.38L385.42 219.7M391.2,202.38L385.42 219.7M391.2,202.38L391.2 219.7M392.02,202.38L392.02 219.7M377.17,202.38L380.47 202.38M391.2,202.38L394.5 202.38M377.17,219.7L382.12 219.7M388.72,219.7L394.5 219.7M408.32,222.5L408.19 223.67 407.8 224.78 407.18 225.78 406.35 226.61 405.35 227.23 404.25 227.62 403.08 227.75 401.91 227.62 400.8 227.23 399.81 226.61 398.98 225.78 398.35 224.78 397.96 223.67 397.83 222.5 397.96 221.34 398.35 220.23 398.98 219.23 399.81 218.4 400.8 217.78 401.91 217.39 403.08 217.26 404.25 217.39 405.35 217.78 406.35 218.4 407.18 219.23 407.8 220.23 408.19 221.34 408.32 222.5M403.67,222.5L403.5 222.93 403.08 223.1 402.66 222.93 402.48 222.5 402.66 222.08 403.08 221.91 403.5 222.08 403.67 222.5" stroke="#ff0000" stroke-width="1.75"/>
<path d="M493.02,343.48L493.02 360.8M493.85,343.48L493.85 360.8M490.55,343.48L493.85 343.48M490.55,360.8L496.32 360.8M505.4,349.25L502.92 350.07 501.27 351.73 500.45 354.2 500.45 355.85 501.27 358.32 502.92 359.98 505.4 360.8 507.05 360.8 509.52 359.98 511.17 358.32 512 355.85 512 354.2 511.17 351.73 509.52 350.07 507.05 349.25 505.4 349.25M505.4,349.25L503.75 350.07 502.1 351.73 501.27 354.2 501.27 355.85 502.1 358.32 503.75 359.98 505.4 360.8M507.05,360.8L508.7 359.98 510.35 358.32 511.17 355.85 511.17 354.2 510.35 351.73 508.7 350.07 507.05 349.25M526.85,351.73L526.02 352.55 526.85 353.38 527.67 352.55 527.67 351.73 526.02 350.07 524.37 349.25 521.9 349.25 519.42 350.07 517.77 351.73 516.95 354.2 516.95 355.85 517.77 358.32 519.42 359.98 521.9 360.8 523.55 360.8 526.02 359.98 527.67 358.32M521.9,349.25L520.25 350.07 518.6 351.73 517.77 354.2 517.77 355.85 518.6 358.32 520.25 359.98 521.9 360.8M534.27,350.9L534.27 351.73 533.45 351.73 533.45 350.9 534.27 350.07 535.92 349.25 539.22 349.25 540.87 350.07 541.7 350.9 542.52 352.55 542.52 358.32 543.35 359.98 544.17 360.8M541.7,350.9L541.7 358.32 542.52 359.98 544.17 360.8 545 360.8M541.7,352.55L540.87 353.38 535.92 354.2 533.45 355.03 532.62 356.68 532.62 358.32 533.45 359.98 535.92 360.8 538.4 360.8 540.05 359.98 541.7 358.32M535.92,354.2L534.27 355.03 533.45 356.68 533.45 358.32 534.27 359.98 535.92 360.8M550.77,343.48L550.77 360.8M551.6,343.48L551.6 360.8M548.3,343.48L551.6 343.48M548.3,360.8L554.07 360.8M577.56,349.25L575.91 350.07 575.09 350.9 574.26 352.55 574.26 354.2 575.09 355.85 575.91 356.68 577.56 357.5 579.21 357.5 580.86 356.68 581.69 355.85 582.51 354.2 582.51 352.55 581.69 350.9 580.86 350.07 579.21 349.25 577.56 349.25M575.91,350.07L575.09 351.73 575.09 355.03 575.91 356.68M580.86,356.68L581.69 355.03 581.69 351.73 580.86 350.07M581.69,350.9L582.51 350.07 584.16 349.25 584.16 350.07 582.51 350.07M575.09,355.85L574.26 356.68 573.44 358.32 573.44 359.15 574.26 360.8 576.74 361.62 580.86 361.62 583.34 362.45 584.16 363.28M573.44,359.15L574.26 359.98 576.74 360.8 580.86 360.8 583.34 361.62 584.16 363.28 584.16 364.1 583.34 365.75 580.86 366.57 575.91 366.57 573.44 365.75 572.61 364.1 572.61 363.28 573.44 361.62 575.91 360.8M590.76,349.25L590.76 360.8M591.59,349.25L591.59 360.8M591.59,354.2L592.41 351.73 594.06 350.07 595.71 349.25 598.19 349.25 599.01 350.07 599.01 350.9 598.19 351.73 597.36 350.9 598.19 350.07M588.29,349.25L591.59 349.25M588.29,360.8L594.06 360.8M608.09,349.25L605.61 350.07 603.96 351.73 603.14 354.2 603.14 355.85 603.96 358.32 605.61 359.98 608.09 360.8 609.74 360.8 612.21 359.98 613.86 358.32 614.69 355.85 614.69 354.2 613.86 351.73 612.21 350.07 609.74 349.25 608.09 349.25M608.09,349.25L606.44 350.07 604.79 351.73 603.96 354.2 603.96 355.85 604.79 358.32 606.44 359.98 608.09 360.8M609.74,360.8L611.39 359.98 613.04 358.32 613.86 355.85 613.86 354.2 613.04 351.73 611.39 350.07 609.74 349.25M621.29,349.25L621.29 358.32 622.11 359.98 624.59 360.8 626.24 360.8 628.71 359.98 630.36 358.32M622.11,349.25L622.11 358.32 622.94 359.98 624.59 360.8M630.36,349.25L630.36 360.8M631.19,349.25L631.19 360.8M618.81,349.25L622.11 349.25M627.89,349.25L631.19 349.25M630.36,360.8L633.66 360.8M639.44,349.25L639.44 366.57M640.26,349.25L640.26 366.57M640.26,351.73L641.91 350.07 643.56 349.25 645.21 349.25 647.69 350.07 649.34 351.73 650.16 354.2 650.16 355.85 649.34 358.32 647.69 359.98 645.21 360.8 643.56 360.8 641.91 359.98 640.26 358.32M645.21,349.25L646.86 350.07 648.51 351.73 649.34 354.2 649.34 355.85 648.51 358.32 646.86 359.98 645.21 360.8M636.96,349.25L640.26 349.25M636.96,366.57L642.74 366.57M680.25,343.48L680.25 360.8M681.07,343.48L681.07 360.8M680.25,351.73L678.6 350.07 676.95 349.25 675.3 349.25 672.82 350.07 671.17 351.73 670.35 354.2 670.35 355.85 671.17 358.32 672.82 359.98 675.3 360.8 676.95 360.8 678.6 359.98 680.25 358.32M675.3,349.25L673.65 350.07 672 351.73 671.17 354.2 671.17 355.85 672 358.32 673.65 359.98 675.3 360.8M677.77,343.48L681.07 343.48M680.25,360.8L683.55 360.8M698.4,345.95L699.22 343.48 699.22 348.43 698.4 345.95 696.75 344.3 694.27 343.48 691.8 343.48 689.32 344.3 687.67 345.95 687.67 347.6 688.5 349.25 689.32 350.07 690.97 350.9 695.92 352.55 697.57 353.38 699.22 355.03M687.67,347.6L689.32 349.25 690.97 350.07 695.92 351.73 697.57 352.55 698.4 353.38 699.22 355.03 699.22 358.32 697.57 359.98 695.1 360.8 692.62 360.8 690.15 359.98 688.5 358.32 687.67 355.85 687.67 360.8 688.5 358.32M705.82,349.25L705.82 366.57M706.65,349.25L706.65 366.57M706.65,351.73L708.3 350.07 709.95 349.25 711.6 349.25 714.07 350.07 715.72 351.73 716.55 354.2 716.55 355.85 715.72 358.32 714.07 359.98 711.6 360.8 709.95 360.8 708.3 359.98 706.65 358.32M711.6,349.25L713.25 350.07 714.9 351.73 715.72 354.2 715.72 355.85 714.9 358.32 713.25 359.98 711.6 360.8M703.35,349.25L706.65 349.25M703.35,366.57L709.12 366.57M723.15,343.48L723.15 360.8M723.97,343.48L723.97 360.8M723.97,351.73L725.62 350.07 728.1 349.25 729.75 349.25 732.22 350.07 733.05 351.73 733.05 360.8M729.75,349.25L731.4 350.07 732.22 351.73 732.22 360.8M720.67,343.48L723.97 343.48M720.67,360.8L726.45 360.8M729.75,360.8L735.52 360.8M747.9,350.9L748.72 349.25 748.72 352.55 747.9 350.9 747.07 350.07 745.42 349.25 742.12 349.25 740.47 350.07 739.65 350.9 739.65 352.55 740.47 353.38 742.12 354.2 746.25 355.85 747.9 356.68 748.72 357.5M739.65,351.73L740.47 352.55 742.12 353.38 746.25 355.03 747.9 355.85 748.72 356.68 748.72 359.15 747.9 359.98 746.25 360.8 742.95 360.8 741.3 359.98 740.47 359.15 739.65 357.5 739.65 360.8 740.47 359.15M755.32,349.25L754.5 350.07 755.32 350.9 756.15 350.07 755.32 349.25M755.32,360.8L754.5 359.98 755.32 359.15 756.15 359.98 756.15 361.62 755.32 363.28 754.5 364.1" stroke="#000" stroke-width="1.75"/>
<path d="M493.12,376.28L493.12 393.6M493.95,376.28L498.9 391.12M493.12,376.28L498.9 393.6M504.68,376.28L498.9 393.6M504.68,376.28L504.68 393.6M505.5,376.28L505.5 393.6M490.65,376.28L493.95 376.28M504.68,376.28L507.98 376.28M490.65,393.6L495.6 393.6M502.2,393.6L507.98 393.6M516.06,394.92L516.55 393.93 516.55 395.91 516.06 394.92 515.57 394.43 514.58 393.93 512.6 393.93 511.61 394.43 511.11 394.92 511.11 395.91 511.61 396.41 512.6 396.9 515.07 397.89 516.06 398.38 516.55 398.88M511.11,395.42L511.61 395.91 512.6 396.41 515.07 397.4 516.06 397.89 516.55 398.38 516.55 399.87 516.06 400.37 515.07 400.86 513.09 400.86 512.1 400.37 511.61 399.87 511.11 398.88 511.11 400.86 511.61 399.87M520.51,390.47L520.51 398.88 521.01 400.37 522 400.86 522.99 400.86 523.98 400.37 524.47 399.38M521.01,390.47L521.01 398.88 521.5 400.37 522 400.86M519.03,393.93L522.99 393.93M527.44,396.9L533.38 396.9 533.38 395.91 532.89 394.92 532.39 394.43 531.4 393.93 529.92 393.93 528.43 394.43 527.44 395.42 526.95 396.9 526.95 397.89 527.44 399.38 528.43 400.37 529.92 400.86 530.91 400.86 532.39 400.37 533.38 399.38M532.89,396.9L532.89 395.42 532.39 394.43M529.92,393.93L528.93 394.43 527.94 395.42 527.44 396.9 527.44 397.89 527.94 399.38 528.93 400.37 529.92 400.86M537.34,390.47L537.34 400.86M537.84,390.47L537.84 400.86M535.86,390.47L537.84 390.47M535.86,400.86L539.32 400.86M542.79,390.47L542.79 400.86M543.28,390.47L543.28 400.86M541.3,390.47L543.28 390.47M541.3,400.86L544.77 400.86M548.24,394.92L548.24 395.42 547.74 395.42 547.74 394.92 548.24 394.43 549.23 393.93 551.21 393.93 552.19 394.43 552.69 394.92 553.18 395.91 553.18 399.38 553.68 400.37 554.17 400.86M552.69,394.92L552.69 399.38 553.18 400.37 554.17 400.86 554.67 400.86M552.69,395.91L552.19 396.41 549.23 396.9 547.74 397.4 547.25 398.38 547.25 399.38 547.74 400.37 549.23 400.86 550.71 400.86 551.7 400.37 552.69 399.38M549.23,396.9L548.24 397.4 547.74 398.38 547.74 399.38 548.24 400.37 549.23 400.86M558.13,393.93L558.13 400.86M558.63,393.93L558.63 400.86M558.63,396.9L559.12 395.42 560.12 394.43 561.11 393.93 562.59 393.93 563.08 394.43 563.08 394.92 562.59 395.42 562.09 394.92 562.59 394.43M556.65,393.93L558.63 393.93M556.65,400.86L560.12 400.86M568.37,378.75L581.57 386.18 568.37 393.6M589.82,379.58L591.47 378.75 593.95 376.28 593.95 393.6M593.12,377.1L593.12 393.6M589.82,393.6L597.25 393.6M608.8,376.28L606.32 377.1 604.67 379.58 603.85 383.7 603.85 386.18 604.67 390.3 606.32 392.78 608.8 393.6 610.45 393.6 612.92 392.78 614.57 390.3 615.4 386.18 615.4 383.7 614.57 379.58 612.92 377.1 610.45 376.28 608.8 376.28M608.8,376.28L607.15 377.1 606.32 377.93 605.5 379.58 604.67 383.7 604.67 386.18 605.5 390.3 606.32 391.95 607.15 392.78 608.8 393.6M610.45,393.6L612.1 392.78 612.92 391.95 613.75 390.3 614.57 386.18 614.57 383.7 613.75 379.58 612.92 377.93 612.1 377.1 610.45 376.28M620.35,375.78L619.36 380.73M619.36,380.73L620.35 379.74 621.83 379.25 623.32 379.25 624.8 379.74 625.79 380.73 626.29 382.22 626.29 383.2 625.79 384.69 624.8 385.68 623.32 386.18 621.83 386.18 620.35 385.68 619.85 385.19 619.36 384.19 619.36 383.7 619.85 383.2 620.35 383.7 619.85 384.19M623.32,379.25L624.31 379.74 625.3 380.73 625.79 382.22 625.79 383.2 625.3 384.69 624.31 385.68 623.32 386.18M620.35,375.78L625.3 375.78M620.35,376.28L622.82 376.28 625.3 375.78M646.34,376.28L646.34 393.6M647.16,376.28L652.11 391.12M646.34,376.28L652.11 393.6M657.89,376.28L652.11 393.6M657.89,376.28L657.89 393.6M658.71,376.28L658.71 393.6M643.86,376.28L647.16 376.28M657.89,376.28L661.19 376.28M643.86,393.6L648.81 393.6M655.41,393.6L661.19 393.6M675.01,396.41L674.88 397.57 674.49 398.68 673.87 399.68 673.04 400.51 672.04 401.13 670.94 401.52 669.77 401.65 668.6 401.52 667.49 401.13 666.5 400.51 665.67 399.68 665.04 398.68 664.65 397.57 664.52 396.41 664.65 395.24 665.04 394.13 665.67 393.13 666.5 392.3 667.49 391.68 668.6 391.29 669.77 391.16 670.94 391.29 672.04 391.68 673.04 392.3 673.87 393.13 674.49 394.13 674.88 395.24 675.01 396.41M670.36,396.41L670.19 396.83 669.77 397 669.35 396.83 669.17 396.41 669.35 395.98 669.77 395.81 670.19 395.98 670.36 396.41M680.82,382.05L680 382.88 680.82 383.7 681.65 382.88 680.82 382.05M680.82,393.6L680 392.78 680.82 391.95 681.65 392.78 681.65 394.43 680.82 396.08 680 396.9" stroke="#000" stroke-width="1.75"/>
<path d="M493.12,408.57L493.12 425.9M493.95,408.57L498.9 423.42M493.12,408.57L498.9 425.9M504.68,408.57L498.9 425.9M504.68,408.57L504.68 425.9M505.5,408.57L505.5 425.9M490.65,408.57L493.95 408.57M504.68,408.57L507.98 408.57M490.65,425.9L495.6 425.9M502.2,425.9L507.98 425.9M511.07,423.3L511.07 434.56M511.07,423.3L515.9 423.3 517.5 423.84 518.04 424.37 518.58 425.45 518.58 426.52 518.04 427.59 517.5 428.13 515.9 428.66M511.07,428.66L515.9 428.66 517.5 429.2 518.04 429.74 518.58 430.81 518.58 432.42 518.04 433.49 517.5 434.03 515.9 434.56 511.07 434.56M522.33,423.3L522.33 434.56M529.84,423.3L529.84 434.56M522.33,428.66L529.84 428.66M536.76,415.5L550.78 415.5M536.76,420.54L550.78 420.54M559.44,411.88L561.09 411.05 563.57 408.57 563.57 425.9M562.74,409.4L562.74 425.9M559.44,425.9L566.87 425.9M578.42,408.57L575.94 409.4 574.29 411.88 573.47 416 573.47 418.47 574.29 422.6 575.94 425.07 578.42 425.9 580.07 425.9 582.54 425.07 584.19 422.6 585.02 418.47 585.02 416 584.19 411.88 582.54 409.4 580.07 408.57 578.42 408.57M578.42,408.57L576.77 409.4 575.94 410.22 575.12 411.88 574.29 416 574.29 418.47 575.12 422.6 575.94 424.25 576.77 425.07 578.42 425.9M580.07,425.9L581.72 425.07 582.54 424.25 583.37 422.6 584.19 418.47 584.19 416 583.37 411.88 582.54 410.22 581.72 409.4 580.07 408.57M589.97,408.08L588.98 413.03M588.98,413.03L589.97 412.04 591.45 411.54 592.94 411.54 594.42 412.04 595.41 413.03 595.91 414.51 595.91 415.5 595.41 416.99 594.42 417.98 592.94 418.47 591.45 418.47 589.97 417.98 589.47 417.48 588.98 416.49 588.98 416 589.47 415.5 589.97 416 589.47 416.49M592.94,411.54L593.93 412.04 594.92 413.03 595.41 414.51 595.41 415.5 594.92 416.99 593.93 417.98 592.94 418.47M589.97,408.08L594.92 408.08M589.97,408.57L592.44 408.57 594.92 408.08M615.96,408.57L615.96 425.9M616.78,408.57L621.73 423.42M615.96,408.57L621.73 425.9M627.51,408.57L621.73 425.9M627.51,408.57L627.51 425.9M628.33,408.57L628.33 425.9M613.48,408.57L616.78 408.57M627.51,408.57L630.81 408.57M613.48,425.9L618.43 425.9M625.03,425.9L630.81 425.9M644.03,428.7L643.9 429.87 643.51 430.98 642.89 431.98 642.06 432.81 641.06 433.43 639.95 433.82 638.79 433.95 637.62 433.82 636.51 433.43 635.51 432.81 634.68 431.98 634.06 430.98 633.67 429.87 633.54 428.7 633.67 427.54 634.06 426.43 634.68 425.43 635.51 424.6 636.51 423.98 637.62 423.59 638.79 423.46 639.95 423.59 641.06 423.98 642.06 424.6 642.89 425.43 643.51 426.43 643.9 427.54 644.03 428.7M639.38,428.7L639.21 429.13 638.79 429.3 638.37 429.13 638.19 428.7 638.37 428.28 638.79 428.11 639.21 428.28 639.38 428.7" stroke="#000" stroke-width="1.75"/>
<path d="M225.42,549.57L225.42 566.9M226.25,549.57L226.25 566.9M222.95,549.57L226.25 549.57M222.95,566.9L228.72 566.9M237.8,555.35L235.32 556.17 233.67 557.82 232.85 560.3 232.85 561.95 233.67 564.42 235.32 566.07 237.8 566.9 239.45 566.9 241.92 566.07 243.57 564.42 244.4 561.95 244.4 560.3 243.57 557.82 241.92 556.17 239.45 555.35 237.8 555.35M237.8,555.35L236.15 556.17 234.5 557.82 233.67 560.3 233.67 561.95 234.5 564.42 236.15 566.07 237.8 566.9M239.45,566.9L241.1 566.07 242.75 564.42 243.57 561.95 243.57 560.3 242.75 557.82 241.1 556.17 239.45 555.35M259.25,557.82L258.42 558.65 259.25 559.48 260.07 558.65 260.07 557.82 258.42 556.17 256.77 555.35 254.3 555.35 251.82 556.17 250.17 557.82 249.35 560.3 249.35 561.95 250.17 564.42 251.82 566.07 254.3 566.9 255.95 566.9 258.42 566.07 260.07 564.42M254.3,555.35L252.65 556.17 251 557.82 250.17 560.3 250.17 561.95 251 564.42 252.65 566.07 254.3 566.9M266.67,557L266.67 557.82 265.85 557.82 265.85 557 266.67 556.17 268.32 555.35 271.62 555.35 273.27 556.17 274.1 557 274.92 558.65 274.92 564.42 275.75 566.07 276.57 566.9M274.1,557L274.1 564.42 274.92 566.07 276.57 566.9 277.4 566.9M274.1,558.65L273.27 559.48 268.32 560.3 265.85 561.12 265.02 562.77 265.02 564.42 265.85 566.07 268.32 566.9 270.8 566.9 272.45 566.07 274.1 564.42M268.32,560.3L266.67 561.12 265.85 562.77 265.85 564.42 266.67 566.07 268.32 566.9M283.17,549.57L283.17 566.9M284,549.57L284 566.9M280.7,549.57L284 549.57M280.7,566.9L286.47 566.9M309.96,555.35L308.31 556.17 307.49 557 306.66 558.65 306.66 560.3 307.49 561.95 308.31 562.77 309.96 563.6 311.61 563.6 313.26 562.77 314.09 561.95 314.91 560.3 314.91 558.65 314.09 557 313.26 556.17 311.61 555.35 309.96 555.35M308.31,556.17L307.49 557.82 307.49 561.12 308.31 562.77M313.26,562.77L314.09 561.12 314.09 557.82 313.26 556.17M314.09,557L314.91 556.17 316.56 555.35 316.56 556.17 314.91 556.17M307.49,561.95L306.66 562.77 305.84 564.42 305.84 565.25 306.66 566.9 309.14 567.73 313.26 567.73 315.74 568.55 316.56 569.38M305.84,565.25L306.66 566.07 309.14 566.9 313.26 566.9 315.74 567.73 316.56 569.38 316.56 570.2 315.74 571.85 313.26 572.67 308.31 572.67 305.84 571.85 305.01 570.2 305.01 569.38 305.84 567.73 308.31 566.9M323.16,555.35L323.16 566.9M323.99,555.35L323.99 566.9M323.99,560.3L324.81 557.82 326.46 556.17 328.11 555.35 330.59 555.35 331.41 556.17 331.41 557 330.59 557.82 329.76 557 330.59 556.17M320.69,555.35L323.99 555.35M320.69,566.9L326.46 566.9M340.49,555.35L338.01 556.17 336.36 557.82 335.54 560.3 335.54 561.95 336.36 564.42 338.01 566.07 340.49 566.9 342.14 566.9 344.61 566.07 346.26 564.42 347.09 561.95 347.09 560.3 346.26 557.82 344.61 556.17 342.14 555.35 340.49 555.35M340.49,555.35L338.84 556.17 337.19 557.82 336.36 560.3 336.36 561.95 337.19 564.42 338.84 566.07 340.49 566.9M342.14,566.9L343.79 566.07 345.44 564.42 346.26 561.95 346.26 560.3 345.44 557.82 343.79 556.17 342.14 555.35M353.69,555.35L353.69 564.42 354.51 566.07 356.99 566.9 358.64 566.9 361.11 566.07 362.76 564.42M354.51,555.35L354.51 564.42 355.34 566.07 356.99 566.9M362.76,555.35L362.76 566.9M363.59,555.35L363.59 566.9M351.21,555.35L354.51 555.35M360.29,555.35L363.59 555.35M362.76,566.9L366.06 566.9M371.84,555.35L371.84 572.67M372.66,555.35L372.66 572.67M372.66,557.82L374.31 556.17 375.96 555.35 377.61 555.35 380.09 556.17 381.74 557.82 382.56 560.3 382.56 561.95 381.74 564.42 380.09 566.07 377.61 566.9 375.96 566.9 374.31 566.07 372.66 564.42M377.61,555.35L379.26 556.17 380.91 557.82 381.74 560.3 381.74 561.95 380.91 564.42 379.26 566.07 377.61 566.9M369.36,555.35L372.66 555.35M369.36,572.67L375.14 572.67M412.65,549.57L412.65 566.9M413.47,549.57L413.47 566.9M412.65,557.82L411 556.17 409.35 555.35 407.7 555.35 405.22 556.17 403.57 557.82 402.75 560.3 402.75 561.95 403.57 564.42 405.22 566.07 407.7 566.9 409.35 566.9 411 566.07 412.65 564.42M407.7,555.35L406.05 556.17 404.4 557.82 403.57 560.3 403.57 561.95 404.4 564.42 406.05 566.07 407.7 566.9M410.17,549.57L413.47 549.57M412.65,566.9L415.95 566.9M430.8,552.05L431.62 549.57 431.62 554.52 430.8 552.05 429.15 550.4 426.67 549.57 424.2 549.57 421.72 550.4 420.07 552.05 420.07 553.7 420.9 555.35 421.72 556.17 423.37 557 428.32 558.65 429.97 559.48 431.62 561.12M420.07,553.7L421.72 555.35 423.37 556.17 428.32 557.82 429.97 558.65 430.8 559.48 431.62 561.12 431.62 564.42 429.97 566.07 427.5 566.9 425.02 566.9 422.55 566.07 420.9 564.42 420.07 561.95 420.07 566.9 420.9 564.42M438.22,555.35L438.22 572.67M439.05,555.35L439.05 572.67M439.05,557.82L440.7 556.17 442.35 555.35 444 555.35 446.47 556.17 448.12 557.82 448.95 560.3 448.95 561.95 448.12 564.42 446.47 566.07 444 566.9 442.35 566.9 440.7 566.07 439.05 564.42M444,555.35L445.65 556.17 447.3 557.82 448.12 560.3 448.12 561.95 447.3 564.42 445.65 566.07 444 566.9M435.75,555.35L439.05 555.35M435.75,572.67L441.52 572.67M455.55,549.57L455.55 566.9M456.37,549.57L456.37 566.9M456.37,557.82L458.02 556.17 460.5 555.35 462.15 555.35 464.62 556.17 465.45 557.82 465.45 566.9M462.15,555.35L463.8 556.17 464.62 557.82 464.62 566.9M453.07,549.57L456.37 549.57M453.07,566.9L458.85 566.9M462.15,566.9L467.92 566.9M480.3,557L481.12 555.35 481.12 558.65 480.3 557 479.47 556.17 477.82 555.35 474.52 555.35 472.87 556.17 472.05 557 472.05 558.65 472.87 559.48 474.52 560.3 478.65 561.95 480.3 562.77 481.12 563.6M472.05,557.82L472.87 558.65 474.52 559.48 478.65 561.12 480.3 561.95 481.12 562.77 481.12 565.25 480.3 566.07 478.65 566.9 475.35 566.9 473.7 566.07 472.87 565.25 472.05 563.6 472.05 566.9 472.87 565.25M487.72,555.35L486.9 556.17 487.72 557 488.55 556.17 487.72 555.35M487.72,566.9L486.9 566.07 487.72 565.25 488.55 566.07 488.55 567.73 487.72 569.38 486.9 570.2" stroke="#0000ff" stroke-width="1.75"/>
<path d="M225.52,582.38L225.52 599.7M226.35,582.38L231.3 597.23M225.52,582.38L231.3 599.7M237.07,582.38L231.3 599.7M237.07,582.38L237.07 599.7M237.9,582.38L237.9 599.7M223.05,582.38L226.35 582.38M237.07,582.38L240.37 582.38M223.05,599.7L228 599.7M234.6,599.7L240.37 599.7M248.46,601.02L248.95 600.03 248.95 602.01 248.46 601.02 247.96 600.53 246.97 600.03 244.99 600.03 244 600.53 243.51 601.02 243.51 602.01 244 602.5 244.99 603 247.47 603.99 248.46 604.49 248.95 604.98M243.51,601.51L244 602.01 244.99 602.5 247.47 603.5 248.46 603.99 248.95 604.49 248.95 605.97 248.46 606.47 247.47 606.96 245.49 606.96 244.5 606.47 244 605.97 243.51 604.98 243.51 606.96 244 605.97M252.91,596.57L252.91 604.98 253.41 606.47 254.4 606.96 255.39 606.96 256.38 606.47 256.87 605.48M253.41,596.57L253.41 604.98 253.9 606.47 254.4 606.96M251.43,600.03L255.39 600.03M259.84,603L265.78 603 265.78 602.01 265.29 601.02 264.79 600.53 263.8 600.03 262.32 600.03 260.83 600.53 259.84 601.51 259.35 603 259.35 603.99 259.84 605.48 260.83 606.47 262.32 606.96 263.31 606.96 264.79 606.47 265.78 605.48M265.29,603L265.29 601.51 264.79 600.53M262.32,600.03L261.33 600.53 260.34 601.51 259.84 603 259.84 603.99 260.34 605.48 261.33 606.47 262.32 606.96M269.74,596.57L269.74 606.96M270.24,596.57L270.24 606.96M268.26,596.57L270.24 596.57M268.26,606.96L271.72 606.96M275.19,596.57L275.19 606.96M275.68,596.57L275.68 606.96M273.7,596.57L275.68 596.57M273.7,606.96L277.17 606.96M280.63,601.02L280.63 601.51 280.14 601.51 280.14 601.02 280.63 600.53 281.62 600.03 283.6 600.03 284.59 600.53 285.09 601.02 285.58 602.01 285.58 605.48 286.08 606.47 286.57 606.96M285.09,601.02L285.09 605.48 285.58 606.47 286.57 606.96 287.07 606.96M285.09,602.01L284.59 602.5 281.62 603 280.14 603.5 279.64 604.49 279.64 605.48 280.14 606.47 281.62 606.96 283.11 606.96 284.1 606.47 285.09 605.48M281.62,603L280.63 603.5 280.14 604.49 280.14 605.48 280.63 606.47 281.62 606.96M290.53,600.03L290.53 606.96M291.03,600.03L291.03 606.96M291.03,603L291.52 601.51 292.51 600.53 293.5 600.03 294.99 600.03 295.48 600.53 295.48 601.02 294.99 601.51 294.49 601.02 294.99 600.53M289.05,600.03L291.03 600.03M289.05,606.96L292.51 606.96M300.77,584.85L313.97 592.28 300.77 599.7M322.22,585.68L323.87 584.85 326.35 582.38 326.35 599.7M325.52,583.2L325.52 599.7M322.22,599.7L329.65 599.7M341.2,582.38L338.72 583.2 337.07 585.68 336.25 589.8 336.25 592.28 337.07 596.4 338.72 598.88 341.2 599.7 342.85 599.7 345.32 598.88 346.97 596.4 347.8 592.28 347.8 589.8 346.97 585.68 345.32 583.2 342.85 582.38 341.2 582.38M341.2,582.38L339.55 583.2 338.72 584.03 337.9 585.68 337.07 589.8 337.07 592.28 337.9 596.4 338.72 598.05 339.55 598.88 341.2 599.7M342.85,599.7L344.5 598.88 345.32 598.05 346.15 596.4 346.97 592.28 346.97 589.8 346.15 585.68 345.32 584.03 344.5 583.2 342.85 582.38M352.75,581.88L351.76 586.83M351.76,586.83L352.75 585.84 354.23 585.35 355.72 585.35 357.2 585.84 358.19 586.83 358.69 588.32 358.69 589.31 358.19 590.79 357.2 591.78 355.72 592.28 354.23 592.28 352.75 591.78 352.25 591.29 351.76 590.3 351.76 589.8 352.25 589.31 352.75 589.8 352.25 590.3M355.72,585.35L356.71 585.84 357.7 586.83 358.19 588.32 358.19 589.31 357.7 590.79 356.71 591.78 355.72 592.28M352.75,581.88L357.7 581.88M352.75,582.38L355.22 582.38 357.7 581.88M378.74,582.38L378.74 599.7M379.56,582.38L384.51 597.23M378.74,582.38L384.51 599.7M390.29,582.38L384.51 599.7M390.29,582.38L390.29 599.7M391.11,582.38L391.11 599.7M376.26,582.38L379.56 582.38M390.29,582.38L393.59 582.38M376.26,599.7L381.21 599.7M387.81,599.7L393.59 599.7M407.41,602.5L407.28 603.67 406.89 604.78 406.27 605.78 405.44 606.61 404.44 607.23 403.34 607.62 402.17 607.75 401 607.62 399.89 607.23 398.9 606.61 398.07 605.78 397.44 604.78 397.05 603.67 396.92 602.5 397.05 601.34 397.44 600.23 398.07 599.23 398.9 598.4 399.89 597.78 401 597.39 402.17 597.26 403.34 597.39 404.44 597.78 405.44 598.4 406.27 599.23 406.89 600.23 407.28 601.34 407.41 602.5M402.76,602.5L402.59 602.93 402.17 603.1 401.75 602.93 401.57 602.5 401.75 602.08 402.17 601.91 402.59 602.08 402.76 602.5M413.22,588.15L412.4 588.98 413.22 589.8 414.05 588.98 413.22 588.15M413.22,599.7L412.4 598.88 413.22 598.05 414.05 598.88 414.05 600.53 413.22 602.18 412.4 603" stroke="#0000ff" stroke-width="1.75"/>
<path d="M225.52,614.67L225.52 632M226.35,614.67L231.3 629.52M225.52,614.67L231.3 632M237.07,614.67L231.3 632M237.07,614.67L237.07 632M237.9,614.67L237.9 632M223.05,614.67L226.35 614.67M237.07,614.67L240.37 614.67M223.05,632L228 632M234.6,632L240.37 632M243.47,629.4L243.47 640.66M243.47,629.4L248.3 629.4 249.91 629.94 250.44 630.47 250.98 631.55 250.98 632.62 250.44 633.69 249.91 634.23 248.3 634.76M243.47,634.76L248.3 634.76 249.91 635.3 250.44 635.84 250.98 636.91 250.98 638.52 250.44 639.59 249.91 640.13 248.3 640.66 243.47 640.66M254.73,629.4L254.73 640.66M262.24,629.4L262.24 640.66M254.73,634.76L262.24 634.76M269.16,621.61L283.18 621.61M269.16,626.64L283.18 626.64M291.84,617.98L293.49 617.15 295.97 614.67 295.97 632M295.14,615.5L295.14 632M291.84,632L299.27 632M310.82,614.67L308.34 615.5 306.69 617.98 305.87 622.1 305.87 624.58 306.69 628.7 308.34 631.17 310.82 632 312.47 632 314.94 631.17 316.59 628.7 317.42 624.58 317.42 622.1 316.59 617.98 314.94 615.5 312.47 614.67 310.82 614.67M310.82,614.67L309.17 615.5 308.34 616.33 307.52 617.98 306.69 622.1 306.69 624.58 307.52 628.7 308.34 630.35 309.17 631.17 310.82 632M312.47,632L314.12 631.17 314.94 630.35 315.77 628.7 316.59 624.58 316.59 622.1 315.77 617.98 314.94 616.33 314.12 615.5 312.47 614.67M323.8,620.12L331.13 620.12M335.29,616.16L335.78 616.66 335.29 617.15 334.79 616.66 334.79 616.16 335.29 615.17 335.78 614.68 337.27 614.18 339.25 614.18 340.73 614.68 341.23 615.67 341.23 617.15 340.73 618.14 339.25 618.63 337.76 618.63M339.25,614.18L340.24 614.68 340.73 615.67 340.73 617.15 340.24 618.14 339.25 618.63M339.25,618.63L340.24 619.13 341.23 620.12 341.72 621.11 341.72 622.6 341.23 623.59 340.73 624.08 339.25 624.58 337.27 624.58 335.78 624.08 335.29 623.59 334.79 622.6 334.79 622.1 335.29 621.61 335.78 622.1 335.29 622.6M340.73,619.62L341.23 621.11 341.23 622.6 340.73 623.59 340.24 624.08 339.25 624.58M361.77,614.67L361.77 632M362.6,614.67L367.55 629.52M361.77,614.67L367.55 632M373.32,614.67L367.55 632M373.32,614.67L373.32 632M374.15,614.67L374.15 632M359.3,614.67L362.6 614.67M373.32,614.67L376.62 614.67M359.3,632L364.25 632M370.85,632L376.62 632M384.71,633.32L385.2 632.33 385.2 634.31 384.71 633.32 384.21 632.83 383.22 632.33 381.24 632.33 380.25 632.83 379.76 633.32 379.76 634.31 380.25 634.8 381.24 635.3 383.72 636.29 384.71 636.78 385.2 637.28M379.76,633.81L380.25 634.31 381.24 634.8 383.72 635.79 384.71 636.29 385.2 636.78 385.2 638.27 384.71 638.76 383.72 639.26 381.74 639.26 380.75 638.76 380.25 638.27 379.76 637.28 379.76 639.26 380.25 638.27M389.16,628.87L389.16 637.28 389.66 638.76 390.65 639.26 391.64 639.26 392.63 638.76 393.12 637.77M389.66,628.87L389.66 637.28 390.15 638.76 390.65 639.26M387.68,632.33L391.64 632.33M396.09,635.3L402.03 635.3 402.03 634.31 401.54 633.32 401.04 632.83 400.05 632.33 398.57 632.33 397.08 632.83 396.09 633.81 395.6 635.3 395.6 636.29 396.09 637.77 397.08 638.76 398.57 639.26 399.56 639.26 401.04 638.76 402.03 637.77M401.54,635.3L401.54 633.81 401.04 632.83M398.57,632.33L397.58 632.83 396.59 633.81 396.09 635.3 396.09 636.29 396.59 637.77 397.58 638.76 398.57 639.26M405.99,628.87L405.99 639.26M406.49,628.87L406.49 639.26M404.51,628.87L406.49 628.87M404.51,639.26L407.97 639.26M411.44,628.87L411.44 639.26M411.93,628.87L411.93 639.26M409.95,628.87L411.93 628.87M409.95,639.26L413.42 639.26M416.88,633.32L416.88 633.81 416.39 633.81 416.39 633.32 416.88 632.83 417.87 632.33 419.85 632.33 420.84 632.83 421.34 633.32 421.83 634.31 421.83 637.77 422.33 638.76 422.82 639.26M421.34,633.32L421.34 637.77 421.83 638.76 422.82 639.26 423.32 639.26M421.34,634.31L420.84 634.8 417.87 635.3 416.39 635.79 415.89 636.78 415.89 637.77 416.39 638.76 417.87 639.26 419.36 639.26 420.35 638.76 421.34 637.77M417.87,635.3L416.88 635.79 416.39 636.78 416.39 637.77 416.88 638.76 417.87 639.26M426.78,632.33L426.78 639.26M427.28,632.33L427.28 639.26M427.28,635.3L427.77 633.81 428.76 632.83 429.75 632.33 431.24 632.33 431.73 632.83 431.73 633.32 431.24 633.81 430.74 633.32 431.24 632.83M425.3,632.33L427.28 632.33M425.3,639.26L428.76 639.26" stroke="#0000ff" stroke-width="1.75"/>
</svg>
</body></html>
